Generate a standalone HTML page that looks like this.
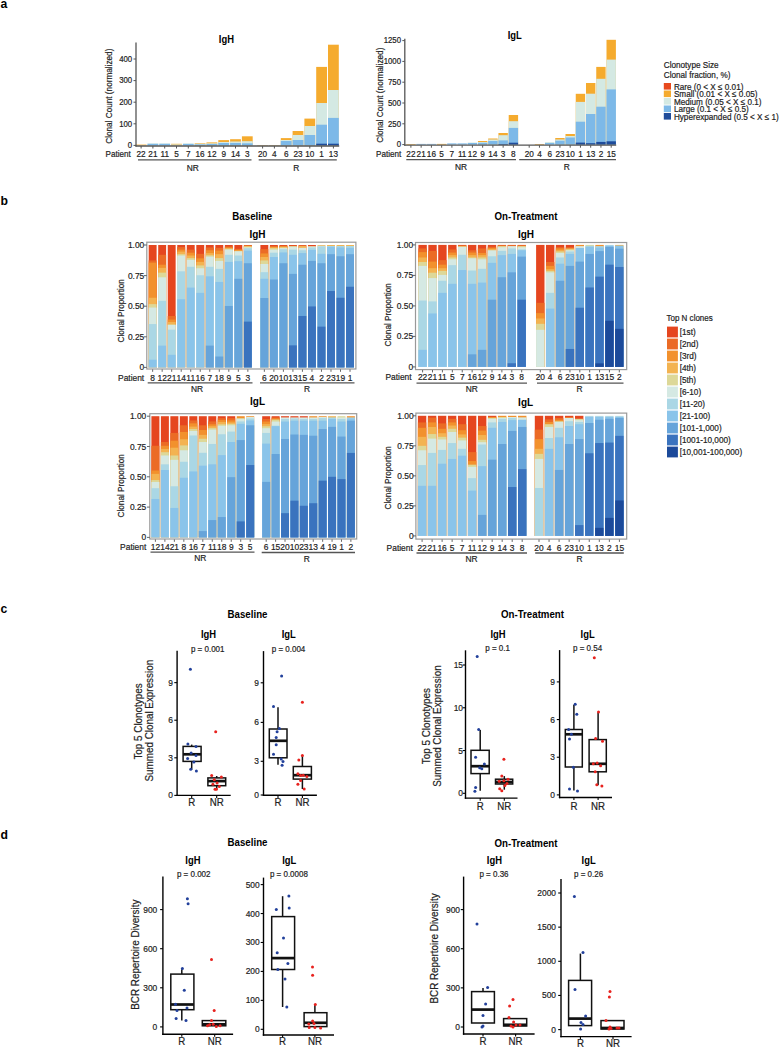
<!DOCTYPE html>
<html><head><meta charset="utf-8"><style>
html,body{margin:0;padding:0;background:#fff;width:780px;height:1050px;overflow:hidden}
svg{display:block;font-family:"Liberation Sans", sans-serif}
</style></head><body>
<svg width="780" height="1050" viewBox="0 0 780 1050">
<rect x="0" y="0" width="780" height="1050" fill="#fff"/>
<text transform="translate(0.50 7.60) scale(0.91 1)" font-size="13.42" text-anchor="start" font-weight="bold" fill="#000">a</text>
<rect x="135.70" y="144.60" width="10.80" height="0.80" fill="#F5AB2E"/>
<rect x="147.50" y="143.40" width="10.80" height="2.00" fill="#D4E9E3"/>
<rect x="147.50" y="143.80" width="10.80" height="1.60" fill="#7DB9E8"/>
<rect x="159.30" y="143.40" width="10.80" height="2.00" fill="#D4E9E3"/>
<rect x="159.30" y="143.80" width="10.80" height="1.60" fill="#7DB9E8"/>
<rect x="171.10" y="143.80" width="10.80" height="1.60" fill="#F5AB2E"/>
<rect x="171.10" y="144.40" width="10.80" height="1.00" fill="#D4E9E3"/>
<rect x="182.90" y="143.40" width="10.80" height="2.00" fill="#D4E9E3"/>
<rect x="182.90" y="143.90" width="10.80" height="1.50" fill="#7DB9E8"/>
<rect x="194.70" y="143.30" width="10.80" height="2.10" fill="#F5AB2E"/>
<rect x="194.70" y="143.80" width="10.80" height="1.60" fill="#D4E9E3"/>
<rect x="194.70" y="144.40" width="10.80" height="1.00" fill="#7DB9E8"/>
<rect x="206.50" y="142.40" width="10.80" height="3.00" fill="#F5AB2E"/>
<rect x="206.50" y="143.30" width="10.80" height="2.10" fill="#D4E9E3"/>
<rect x="206.50" y="144.00" width="10.80" height="1.40" fill="#7DB9E8"/>
<rect x="218.30" y="140.10" width="10.80" height="5.30" fill="#F5AB2E"/>
<rect x="218.30" y="142.00" width="10.80" height="3.40" fill="#D4E9E3"/>
<rect x="218.30" y="143.00" width="10.80" height="2.40" fill="#7DB9E8"/>
<rect x="230.10" y="139.20" width="10.80" height="6.20" fill="#F5AB2E"/>
<rect x="230.10" y="141.50" width="10.80" height="3.90" fill="#D4E9E3"/>
<rect x="230.10" y="143.00" width="10.80" height="2.40" fill="#7DB9E8"/>
<rect x="241.90" y="136.30" width="10.80" height="9.10" fill="#F5AB2E"/>
<rect x="241.90" y="141.20" width="10.80" height="4.20" fill="#D4E9E3"/>
<rect x="241.90" y="143.30" width="10.80" height="2.10" fill="#7DB9E8"/>
<rect x="257.20" y="145.00" width="10.80" height="0.40" fill="#F5AB2E"/>
<rect x="269.00" y="145.00" width="10.80" height="0.40" fill="#F5AB2E"/>
<rect x="280.80" y="138.10" width="10.80" height="7.30" fill="#F5AB2E"/>
<rect x="280.80" y="140.00" width="10.80" height="5.40" fill="#D4E9E3"/>
<rect x="280.80" y="141.00" width="10.80" height="4.40" fill="#7DB9E8"/>
<rect x="292.60" y="131.00" width="10.80" height="14.40" fill="#F5AB2E"/>
<rect x="292.60" y="135.00" width="10.80" height="10.40" fill="#D4E9E3"/>
<rect x="292.60" y="140.00" width="10.80" height="5.40" fill="#7DB9E8"/>
<rect x="304.40" y="118.60" width="10.80" height="26.80" fill="#F5AB2E"/>
<rect x="304.40" y="126.00" width="10.80" height="19.40" fill="#D4E9E3"/>
<rect x="304.40" y="135.00" width="10.80" height="10.40" fill="#7DB9E8"/>
<rect x="316.20" y="66.90" width="10.80" height="78.50" fill="#F5AB2E"/>
<rect x="316.20" y="103.00" width="10.80" height="42.40" fill="#D4E9E3"/>
<rect x="316.20" y="124.70" width="10.80" height="20.70" fill="#7DB9E8"/>
<rect x="316.20" y="143.70" width="10.80" height="1.70" fill="#1F4C9B"/>
<rect x="328.00" y="44.70" width="10.80" height="100.70" fill="#F5AB2E"/>
<rect x="328.00" y="90.00" width="10.80" height="55.40" fill="#D4E9E3"/>
<rect x="328.00" y="117.90" width="10.80" height="27.50" fill="#7DB9E8"/>
<rect x="328.00" y="143.70" width="10.80" height="1.70" fill="#1F4C9B"/>
<line x1="136.00" y1="42.60" x2="136.00" y2="146.60" stroke="#555" stroke-width="1.3"/>
<line x1="135.40" y1="146.00" x2="339.20" y2="146.00" stroke="#555" stroke-width="1.3"/>
<line x1="133.50" y1="145.40" x2="136.00" y2="145.40" stroke="#555" stroke-width="1"/>
<text transform="translate(132.20 148.20) scale(0.91 1)" font-size="8.58" text-anchor="end" fill="#222" stroke="#222" stroke-width="0.2">0</text>
<line x1="133.50" y1="123.80" x2="136.00" y2="123.80" stroke="#555" stroke-width="1"/>
<text transform="translate(132.20 126.60) scale(0.91 1)" font-size="8.58" text-anchor="end" fill="#222" stroke="#222" stroke-width="0.2">100</text>
<line x1="133.50" y1="102.20" x2="136.00" y2="102.20" stroke="#555" stroke-width="1"/>
<text transform="translate(132.20 105.00) scale(0.91 1)" font-size="8.58" text-anchor="end" fill="#222" stroke="#222" stroke-width="0.2">200</text>
<line x1="133.50" y1="80.60" x2="136.00" y2="80.60" stroke="#555" stroke-width="1"/>
<text transform="translate(132.20 83.40) scale(0.91 1)" font-size="8.58" text-anchor="end" fill="#222" stroke="#222" stroke-width="0.2">300</text>
<line x1="133.50" y1="59.00" x2="136.00" y2="59.00" stroke="#555" stroke-width="1"/>
<text transform="translate(132.20 61.80) scale(0.91 1)" font-size="8.58" text-anchor="end" fill="#222" stroke="#222" stroke-width="0.2">400</text>
<line x1="141.10" y1="146.00" x2="141.10" y2="148.50" stroke="#555" stroke-width="1"/>
<text transform="translate(141.10 156.50) scale(0.91 1)" font-size="9.02" text-anchor="middle" fill="#222" stroke="#222" stroke-width="0.2">22</text>
<line x1="152.90" y1="146.00" x2="152.90" y2="148.50" stroke="#555" stroke-width="1"/>
<text transform="translate(152.90 156.50) scale(0.91 1)" font-size="9.02" text-anchor="middle" fill="#222" stroke="#222" stroke-width="0.2">21</text>
<line x1="164.70" y1="146.00" x2="164.70" y2="148.50" stroke="#555" stroke-width="1"/>
<text transform="translate(164.70 156.50) scale(0.91 1)" font-size="9.02" text-anchor="middle" fill="#222" stroke="#222" stroke-width="0.2">11</text>
<line x1="176.50" y1="146.00" x2="176.50" y2="148.50" stroke="#555" stroke-width="1"/>
<text transform="translate(176.50 156.50) scale(0.91 1)" font-size="9.02" text-anchor="middle" fill="#222" stroke="#222" stroke-width="0.2">5</text>
<line x1="188.30" y1="146.00" x2="188.30" y2="148.50" stroke="#555" stroke-width="1"/>
<text transform="translate(188.30 156.50) scale(0.91 1)" font-size="9.02" text-anchor="middle" fill="#222" stroke="#222" stroke-width="0.2">7</text>
<line x1="200.10" y1="146.00" x2="200.10" y2="148.50" stroke="#555" stroke-width="1"/>
<text transform="translate(200.10 156.50) scale(0.91 1)" font-size="9.02" text-anchor="middle" fill="#222" stroke="#222" stroke-width="0.2">16</text>
<line x1="211.90" y1="146.00" x2="211.90" y2="148.50" stroke="#555" stroke-width="1"/>
<text transform="translate(211.90 156.50) scale(0.91 1)" font-size="9.02" text-anchor="middle" fill="#222" stroke="#222" stroke-width="0.2">12</text>
<line x1="223.70" y1="146.00" x2="223.70" y2="148.50" stroke="#555" stroke-width="1"/>
<text transform="translate(223.70 156.50) scale(0.91 1)" font-size="9.02" text-anchor="middle" fill="#222" stroke="#222" stroke-width="0.2">9</text>
<line x1="235.50" y1="146.00" x2="235.50" y2="148.50" stroke="#555" stroke-width="1"/>
<text transform="translate(235.50 156.50) scale(0.91 1)" font-size="9.02" text-anchor="middle" fill="#222" stroke="#222" stroke-width="0.2">14</text>
<line x1="247.30" y1="146.00" x2="247.30" y2="148.50" stroke="#555" stroke-width="1"/>
<text transform="translate(247.30 156.50) scale(0.91 1)" font-size="9.02" text-anchor="middle" fill="#222" stroke="#222" stroke-width="0.2">3</text>
<line x1="262.60" y1="146.00" x2="262.60" y2="148.50" stroke="#555" stroke-width="1"/>
<text transform="translate(262.60 156.50) scale(0.91 1)" font-size="9.02" text-anchor="middle" fill="#222" stroke="#222" stroke-width="0.2">20</text>
<line x1="274.40" y1="146.00" x2="274.40" y2="148.50" stroke="#555" stroke-width="1"/>
<text transform="translate(274.40 156.50) scale(0.91 1)" font-size="9.02" text-anchor="middle" fill="#222" stroke="#222" stroke-width="0.2">4</text>
<line x1="286.20" y1="146.00" x2="286.20" y2="148.50" stroke="#555" stroke-width="1"/>
<text transform="translate(286.20 156.50) scale(0.91 1)" font-size="9.02" text-anchor="middle" fill="#222" stroke="#222" stroke-width="0.2">6</text>
<line x1="298.00" y1="146.00" x2="298.00" y2="148.50" stroke="#555" stroke-width="1"/>
<text transform="translate(298.00 156.50) scale(0.91 1)" font-size="9.02" text-anchor="middle" fill="#222" stroke="#222" stroke-width="0.2">23</text>
<line x1="309.80" y1="146.00" x2="309.80" y2="148.50" stroke="#555" stroke-width="1"/>
<text transform="translate(309.80 156.50) scale(0.91 1)" font-size="9.02" text-anchor="middle" fill="#222" stroke="#222" stroke-width="0.2">10</text>
<line x1="321.60" y1="146.00" x2="321.60" y2="148.50" stroke="#555" stroke-width="1"/>
<text transform="translate(321.60 156.50) scale(0.91 1)" font-size="9.02" text-anchor="middle" fill="#222" stroke="#222" stroke-width="0.2">1</text>
<line x1="333.40" y1="146.00" x2="333.40" y2="148.50" stroke="#555" stroke-width="1"/>
<text transform="translate(333.40 156.50) scale(0.91 1)" font-size="9.02" text-anchor="middle" fill="#222" stroke="#222" stroke-width="0.2">13</text>
<text transform="translate(130.80 156.50) scale(0.91 1)" font-size="8.91" text-anchor="end" fill="#222" stroke="#222" stroke-width="0.2">Patient</text>
<line x1="138.00" y1="159.90" x2="251.50" y2="159.90" stroke="#555" stroke-width="1.3"/>
<line x1="258.70" y1="159.90" x2="336.80" y2="159.90" stroke="#555" stroke-width="1.3"/>
<text transform="translate(192.80 171.20) scale(0.91 1)" font-size="9.24" text-anchor="middle" fill="#222" stroke="#222" stroke-width="0.2">NR</text>
<text transform="translate(296.40 171.20) scale(0.91 1)" font-size="9.24" text-anchor="middle" fill="#222" stroke="#222" stroke-width="0.2">R</text>
<text transform="translate(226.40 43.20) scale(0.91 1)" font-size="10.34" text-anchor="middle" font-weight="bold" fill="#000">IgH</text>
<text transform="translate(111.90 96.20) rotate(-90) scale(0.91 1)" font-size="9.02" text-anchor="middle" fill="#222" stroke="#222" stroke-width="0.2">Clonal Count (normalized)</text>
<rect x="406.20" y="144.00" width="9.40" height="0.60" fill="#F5AB2E"/>
<rect x="416.45" y="143.90" width="9.40" height="0.70" fill="#7DB9E8"/>
<rect x="426.70" y="143.90" width="9.40" height="0.70" fill="#7DB9E8"/>
<rect x="436.95" y="143.90" width="9.40" height="0.70" fill="#F5AB2E"/>
<rect x="447.20" y="143.40" width="9.40" height="1.20" fill="#7DB9E8"/>
<rect x="457.45" y="143.40" width="9.40" height="1.20" fill="#7DB9E8"/>
<rect x="467.70" y="142.50" width="9.40" height="2.10" fill="#D4E9E3"/>
<rect x="467.70" y="143.00" width="9.40" height="1.60" fill="#7DB9E8"/>
<rect x="477.95" y="141.00" width="9.40" height="3.60" fill="#F5AB2E"/>
<rect x="477.95" y="142.00" width="9.40" height="2.60" fill="#D4E9E3"/>
<rect x="477.95" y="142.80" width="9.40" height="1.80" fill="#7DB9E8"/>
<rect x="488.20" y="138.50" width="9.40" height="6.10" fill="#F5AB2E"/>
<rect x="488.20" y="139.50" width="9.40" height="5.10" fill="#D4E9E3"/>
<rect x="488.20" y="141.00" width="9.40" height="3.60" fill="#7DB9E8"/>
<rect x="498.45" y="133.00" width="9.40" height="11.60" fill="#F5AB2E"/>
<rect x="498.45" y="135.20" width="9.40" height="9.40" fill="#D4E9E3"/>
<rect x="498.45" y="140.40" width="9.40" height="4.20" fill="#7DB9E8"/>
<rect x="498.45" y="144.00" width="9.40" height="0.60" fill="#1F4C9B"/>
<rect x="508.70" y="115.00" width="9.40" height="29.60" fill="#F5AB2E"/>
<rect x="508.70" y="121.20" width="9.40" height="23.40" fill="#D4E9E3"/>
<rect x="508.70" y="127.90" width="9.40" height="16.70" fill="#7DB9E8"/>
<rect x="508.70" y="142.70" width="9.40" height="1.90" fill="#1F4C9B"/>
<rect x="534.75" y="144.00" width="9.40" height="0.60" fill="#F5AB2E"/>
<rect x="545.00" y="142.00" width="9.40" height="2.60" fill="#D4E9E3"/>
<rect x="545.00" y="143.00" width="9.40" height="1.60" fill="#7DB9E8"/>
<rect x="555.25" y="138.00" width="9.40" height="6.60" fill="#F5AB2E"/>
<rect x="555.25" y="139.50" width="9.40" height="5.10" fill="#D4E9E3"/>
<rect x="555.25" y="140.70" width="9.40" height="3.90" fill="#7DB9E8"/>
<rect x="565.50" y="134.00" width="9.40" height="10.60" fill="#F5AB2E"/>
<rect x="565.50" y="136.00" width="9.40" height="8.60" fill="#D4E9E3"/>
<rect x="565.50" y="137.50" width="9.40" height="7.10" fill="#7DB9E8"/>
<rect x="575.75" y="93.80" width="9.40" height="50.80" fill="#F5AB2E"/>
<rect x="575.75" y="101.90" width="9.40" height="42.70" fill="#D4E9E3"/>
<rect x="575.75" y="121.70" width="9.40" height="22.90" fill="#7DB9E8"/>
<rect x="575.75" y="142.60" width="9.40" height="2.00" fill="#1F4C9B"/>
<rect x="586.00" y="83.00" width="9.40" height="61.60" fill="#F5AB2E"/>
<rect x="586.00" y="93.70" width="9.40" height="50.90" fill="#D4E9E3"/>
<rect x="586.00" y="114.00" width="9.40" height="30.60" fill="#7DB9E8"/>
<rect x="586.00" y="143.20" width="9.40" height="1.40" fill="#1F4C9B"/>
<rect x="596.25" y="66.90" width="9.40" height="77.70" fill="#F5AB2E"/>
<rect x="596.25" y="78.80" width="9.40" height="65.80" fill="#D4E9E3"/>
<rect x="596.25" y="106.70" width="9.40" height="37.90" fill="#7DB9E8"/>
<rect x="596.25" y="141.90" width="9.40" height="2.70" fill="#1F4C9B"/>
<rect x="606.50" y="39.80" width="9.40" height="104.80" fill="#F5AB2E"/>
<rect x="606.50" y="59.60" width="9.40" height="85.00" fill="#D4E9E3"/>
<rect x="606.50" y="89.40" width="9.40" height="55.20" fill="#7DB9E8"/>
<rect x="606.50" y="141.30" width="9.40" height="3.30" fill="#1F4C9B"/>
<line x1="404.80" y1="38.80" x2="404.80" y2="145.80" stroke="#555" stroke-width="1.3"/>
<line x1="404.20" y1="145.20" x2="616.20" y2="145.20" stroke="#555" stroke-width="1.3"/>
<line x1="402.30" y1="144.60" x2="404.80" y2="144.60" stroke="#555" stroke-width="1"/>
<text transform="translate(401.00 147.40) scale(0.91 1)" font-size="8.58" text-anchor="end" fill="#222" stroke="#222" stroke-width="0.2">0</text>
<line x1="402.30" y1="123.80" x2="404.80" y2="123.80" stroke="#555" stroke-width="1"/>
<text transform="translate(401.00 126.60) scale(0.91 1)" font-size="8.58" text-anchor="end" fill="#222" stroke="#222" stroke-width="0.2">250</text>
<line x1="402.30" y1="103.00" x2="404.80" y2="103.00" stroke="#555" stroke-width="1"/>
<text transform="translate(401.00 105.80) scale(0.91 1)" font-size="8.58" text-anchor="end" fill="#222" stroke="#222" stroke-width="0.2">500</text>
<line x1="402.30" y1="82.20" x2="404.80" y2="82.20" stroke="#555" stroke-width="1"/>
<text transform="translate(401.00 85.00) scale(0.91 1)" font-size="8.58" text-anchor="end" fill="#222" stroke="#222" stroke-width="0.2">750</text>
<line x1="402.30" y1="61.40" x2="404.80" y2="61.40" stroke="#555" stroke-width="1"/>
<text transform="translate(401.00 64.20) scale(0.91 1)" font-size="8.58" text-anchor="end" fill="#222" stroke="#222" stroke-width="0.2">1000</text>
<line x1="402.30" y1="40.60" x2="404.80" y2="40.60" stroke="#555" stroke-width="1"/>
<text transform="translate(401.00 43.40) scale(0.91 1)" font-size="8.58" text-anchor="end" fill="#222" stroke="#222" stroke-width="0.2">1250</text>
<line x1="410.90" y1="145.20" x2="410.90" y2="147.70" stroke="#555" stroke-width="1"/>
<text transform="translate(410.90 156.70) scale(0.91 1)" font-size="9.02" text-anchor="middle" fill="#222" stroke="#222" stroke-width="0.2">22</text>
<line x1="421.15" y1="145.20" x2="421.15" y2="147.70" stroke="#555" stroke-width="1"/>
<text transform="translate(421.15 156.70) scale(0.91 1)" font-size="9.02" text-anchor="middle" fill="#222" stroke="#222" stroke-width="0.2">21</text>
<line x1="431.40" y1="145.20" x2="431.40" y2="147.70" stroke="#555" stroke-width="1"/>
<text transform="translate(431.40 156.70) scale(0.91 1)" font-size="9.02" text-anchor="middle" fill="#222" stroke="#222" stroke-width="0.2">16</text>
<line x1="441.65" y1="145.20" x2="441.65" y2="147.70" stroke="#555" stroke-width="1"/>
<text transform="translate(441.65 156.70) scale(0.91 1)" font-size="9.02" text-anchor="middle" fill="#222" stroke="#222" stroke-width="0.2">5</text>
<line x1="451.90" y1="145.20" x2="451.90" y2="147.70" stroke="#555" stroke-width="1"/>
<text transform="translate(451.90 156.70) scale(0.91 1)" font-size="9.02" text-anchor="middle" fill="#222" stroke="#222" stroke-width="0.2">7</text>
<line x1="462.15" y1="145.20" x2="462.15" y2="147.70" stroke="#555" stroke-width="1"/>
<text transform="translate(462.15 156.70) scale(0.91 1)" font-size="9.02" text-anchor="middle" fill="#222" stroke="#222" stroke-width="0.2">11</text>
<line x1="472.40" y1="145.20" x2="472.40" y2="147.70" stroke="#555" stroke-width="1"/>
<text transform="translate(472.40 156.70) scale(0.91 1)" font-size="9.02" text-anchor="middle" fill="#222" stroke="#222" stroke-width="0.2">12</text>
<line x1="482.65" y1="145.20" x2="482.65" y2="147.70" stroke="#555" stroke-width="1"/>
<text transform="translate(482.65 156.70) scale(0.91 1)" font-size="9.02" text-anchor="middle" fill="#222" stroke="#222" stroke-width="0.2">9</text>
<line x1="492.90" y1="145.20" x2="492.90" y2="147.70" stroke="#555" stroke-width="1"/>
<text transform="translate(492.90 156.70) scale(0.91 1)" font-size="9.02" text-anchor="middle" fill="#222" stroke="#222" stroke-width="0.2">14</text>
<line x1="503.15" y1="145.20" x2="503.15" y2="147.70" stroke="#555" stroke-width="1"/>
<text transform="translate(503.15 156.70) scale(0.91 1)" font-size="9.02" text-anchor="middle" fill="#222" stroke="#222" stroke-width="0.2">3</text>
<line x1="513.40" y1="145.20" x2="513.40" y2="147.70" stroke="#555" stroke-width="1"/>
<text transform="translate(513.40 156.70) scale(0.91 1)" font-size="9.02" text-anchor="middle" fill="#222" stroke="#222" stroke-width="0.2">8</text>
<line x1="529.20" y1="145.20" x2="529.20" y2="147.70" stroke="#555" stroke-width="1"/>
<text transform="translate(529.20 156.70) scale(0.91 1)" font-size="9.02" text-anchor="middle" fill="#222" stroke="#222" stroke-width="0.2">20</text>
<line x1="539.45" y1="145.20" x2="539.45" y2="147.70" stroke="#555" stroke-width="1"/>
<text transform="translate(539.45 156.70) scale(0.91 1)" font-size="9.02" text-anchor="middle" fill="#222" stroke="#222" stroke-width="0.2">4</text>
<line x1="549.70" y1="145.20" x2="549.70" y2="147.70" stroke="#555" stroke-width="1"/>
<text transform="translate(549.70 156.70) scale(0.91 1)" font-size="9.02" text-anchor="middle" fill="#222" stroke="#222" stroke-width="0.2">6</text>
<line x1="559.95" y1="145.20" x2="559.95" y2="147.70" stroke="#555" stroke-width="1"/>
<text transform="translate(559.95 156.70) scale(0.91 1)" font-size="9.02" text-anchor="middle" fill="#222" stroke="#222" stroke-width="0.2">23</text>
<line x1="570.20" y1="145.20" x2="570.20" y2="147.70" stroke="#555" stroke-width="1"/>
<text transform="translate(570.20 156.70) scale(0.91 1)" font-size="9.02" text-anchor="middle" fill="#222" stroke="#222" stroke-width="0.2">10</text>
<line x1="580.45" y1="145.20" x2="580.45" y2="147.70" stroke="#555" stroke-width="1"/>
<text transform="translate(580.45 156.70) scale(0.91 1)" font-size="9.02" text-anchor="middle" fill="#222" stroke="#222" stroke-width="0.2">1</text>
<line x1="590.70" y1="145.20" x2="590.70" y2="147.70" stroke="#555" stroke-width="1"/>
<text transform="translate(590.70 156.70) scale(0.91 1)" font-size="9.02" text-anchor="middle" fill="#222" stroke="#222" stroke-width="0.2">13</text>
<line x1="600.95" y1="145.20" x2="600.95" y2="147.70" stroke="#555" stroke-width="1"/>
<text transform="translate(600.95 156.70) scale(0.91 1)" font-size="9.02" text-anchor="middle" fill="#222" stroke="#222" stroke-width="0.2">2</text>
<line x1="611.20" y1="145.20" x2="611.20" y2="147.70" stroke="#555" stroke-width="1"/>
<text transform="translate(611.20 156.70) scale(0.91 1)" font-size="9.02" text-anchor="middle" fill="#222" stroke="#222" stroke-width="0.2">15</text>
<text transform="translate(401.20 156.70) scale(0.91 1)" font-size="8.91" text-anchor="end" fill="#222" stroke="#222" stroke-width="0.2">Patient</text>
<line x1="406.30" y1="159.60" x2="516.00" y2="159.60" stroke="#555" stroke-width="1.3"/>
<line x1="519.20" y1="159.60" x2="616.00" y2="159.60" stroke="#555" stroke-width="1.3"/>
<text transform="translate(461.00 170.20) scale(0.91 1)" font-size="9.24" text-anchor="middle" fill="#222" stroke="#222" stroke-width="0.2">NR</text>
<text transform="translate(566.70 170.20) scale(0.91 1)" font-size="9.24" text-anchor="middle" fill="#222" stroke="#222" stroke-width="0.2">R</text>
<text transform="translate(514.70 39.20) scale(0.91 1)" font-size="10.34" text-anchor="middle" font-weight="bold" fill="#000">IgL</text>
<text transform="translate(383.00 95.20) rotate(-90) scale(0.91 1)" font-size="9.02" text-anchor="middle" fill="#222" stroke="#222" stroke-width="0.2">Clonal Count (normalized)</text>
<text transform="translate(663.80 68.30) scale(0.91 1)" font-size="8.97" text-anchor="start" fill="#222" stroke="#222" stroke-width="0.2">Clonotype Size</text>
<text transform="translate(663.80 78.00) scale(0.91 1)" font-size="8.97" text-anchor="start" fill="#222" stroke="#222" stroke-width="0.2">Clonal fraction, %)</text>
<rect x="663.80" y="83.00" width="7.20" height="6.60" fill="#E8491D"/>
<text transform="translate(673.90 89.50) scale(0.91 1)" font-size="8.97" text-anchor="start" fill="#222" stroke="#222" stroke-width="0.2">Rare (0 &lt; X ≤ 0.01)</text>
<rect x="663.80" y="90.50" width="7.20" height="6.60" fill="#F5AB2E"/>
<text transform="translate(673.90 97.00) scale(0.91 1)" font-size="8.97" text-anchor="start" fill="#222" stroke="#222" stroke-width="0.2">Small (0.01 &lt; X ≤ 0.05)</text>
<rect x="663.80" y="98.00" width="7.20" height="6.60" fill="#D4E9E3"/>
<text transform="translate(673.90 104.50) scale(0.91 1)" font-size="8.97" text-anchor="start" fill="#222" stroke="#222" stroke-width="0.2">Medium (0.05 &lt; X ≤ 0.1)</text>
<rect x="663.80" y="105.50" width="7.20" height="6.60" fill="#7DB9E8"/>
<text transform="translate(673.90 112.00) scale(0.91 1)" font-size="8.97" text-anchor="start" fill="#222" stroke="#222" stroke-width="0.2">Large (0.1 &lt; X ≤ 0.5)</text>
<rect x="663.80" y="113.00" width="7.20" height="6.60" fill="#1F4C9B"/>
<text transform="translate(673.90 119.50) scale(0.91 1)" font-size="8.97" text-anchor="start" fill="#222" stroke="#222" stroke-width="0.2">Hyperexpanded (0.5 &lt; X ≤ 1)</text>
<text transform="translate(0.50 204.80) scale(0.91 1)" font-size="13.42" text-anchor="start" font-weight="bold" fill="#000">b</text>
<text transform="translate(252.30 219.60) scale(0.91 1)" font-size="10.67" text-anchor="middle" font-weight="bold" fill="#000">Baseline</text>
<text transform="translate(526.00 219.80) scale(0.91 1)" font-size="10.67" text-anchor="middle" font-weight="bold" fill="#000">On-Treatment</text>
<rect x="146.80" y="242.20" width="209.10" height="126.80" fill="#fff" stroke="#999" stroke-width="1.2"/>
<rect x="148.70" y="245.00" width="7.90" height="122.40" fill="#E5461F"/>
<rect x="148.70" y="260.42" width="7.90" height="106.98" fill="#EB6B25"/>
<rect x="148.70" y="262.63" width="7.90" height="104.77" fill="#F2912D"/>
<rect x="148.70" y="297.75" width="7.90" height="69.65" fill="#F3B351"/>
<rect x="148.70" y="304.12" width="7.90" height="63.28" fill="#DDD898"/>
<rect x="148.70" y="307.55" width="7.90" height="59.85" fill="#D5E9E3"/>
<rect x="148.70" y="324.07" width="7.90" height="43.33" fill="#AAD7E5"/>
<rect x="148.70" y="359.69" width="7.90" height="7.71" fill="#8AC4EA"/>
<rect x="158.22" y="245.00" width="7.90" height="122.40" fill="#E5461F"/>
<rect x="158.22" y="254.79" width="7.90" height="112.61" fill="#EB6B25"/>
<rect x="158.22" y="264.71" width="7.90" height="102.69" fill="#F2912D"/>
<rect x="158.22" y="267.89" width="7.90" height="99.51" fill="#F3B351"/>
<rect x="158.22" y="272.66" width="7.90" height="94.74" fill="#DDD898"/>
<rect x="158.22" y="277.31" width="7.90" height="90.09" fill="#D5E9E3"/>
<rect x="158.22" y="300.81" width="7.90" height="66.59" fill="#AAD7E5"/>
<rect x="158.22" y="345.61" width="7.90" height="21.79" fill="#8AC4EA"/>
<rect x="167.74" y="245.00" width="7.90" height="122.40" fill="#E5461F"/>
<rect x="167.74" y="315.99" width="7.90" height="51.41" fill="#EB6B25"/>
<rect x="167.74" y="319.54" width="7.90" height="47.86" fill="#F2912D"/>
<rect x="167.74" y="321.99" width="7.90" height="45.41" fill="#F3B351"/>
<rect x="167.74" y="324.44" width="7.90" height="42.96" fill="#DDD898"/>
<rect x="167.74" y="324.93" width="7.90" height="42.47" fill="#D5E9E3"/>
<rect x="167.74" y="329.70" width="7.90" height="37.70" fill="#AAD7E5"/>
<rect x="167.74" y="354.79" width="7.90" height="12.61" fill="#8AC4EA"/>
<rect x="177.26" y="245.00" width="7.90" height="122.40" fill="#E5461F"/>
<rect x="177.26" y="247.08" width="7.90" height="120.32" fill="#EB6B25"/>
<rect x="177.26" y="249.65" width="7.90" height="117.75" fill="#F2912D"/>
<rect x="177.26" y="251.61" width="7.90" height="115.79" fill="#F3B351"/>
<rect x="177.26" y="254.18" width="7.90" height="113.22" fill="#DDD898"/>
<rect x="177.26" y="255.53" width="7.90" height="111.87" fill="#D5E9E3"/>
<rect x="177.26" y="271.32" width="7.90" height="96.08" fill="#AAD7E5"/>
<rect x="177.26" y="299.22" width="7.90" height="68.18" fill="#8AC4EA"/>
<rect x="186.78" y="245.00" width="7.90" height="122.40" fill="#E5461F"/>
<rect x="186.78" y="249.65" width="7.90" height="117.75" fill="#EB6B25"/>
<rect x="186.78" y="252.71" width="7.90" height="114.69" fill="#F2912D"/>
<rect x="186.78" y="255.53" width="7.90" height="111.87" fill="#F3B351"/>
<rect x="186.78" y="258.10" width="7.90" height="109.30" fill="#DDD898"/>
<rect x="186.78" y="259.81" width="7.90" height="107.59" fill="#D5E9E3"/>
<rect x="186.78" y="266.79" width="7.90" height="100.61" fill="#AAD7E5"/>
<rect x="186.78" y="287.60" width="7.90" height="79.80" fill="#8AC4EA"/>
<rect x="196.30" y="245.00" width="7.90" height="122.40" fill="#E5461F"/>
<rect x="196.30" y="253.81" width="7.90" height="113.59" fill="#EB6B25"/>
<rect x="196.30" y="258.34" width="7.90" height="109.06" fill="#F2912D"/>
<rect x="196.30" y="261.89" width="7.90" height="105.51" fill="#F3B351"/>
<rect x="196.30" y="265.44" width="7.90" height="101.96" fill="#DDD898"/>
<rect x="196.30" y="268.26" width="7.90" height="99.14" fill="#D5E9E3"/>
<rect x="196.30" y="275.23" width="7.90" height="92.17" fill="#AAD7E5"/>
<rect x="196.30" y="292.86" width="7.90" height="74.54" fill="#8AC4EA"/>
<rect x="205.82" y="245.00" width="7.90" height="122.40" fill="#E5461F"/>
<rect x="205.82" y="247.45" width="7.90" height="119.95" fill="#EB6B25"/>
<rect x="205.82" y="250.26" width="7.90" height="117.14" fill="#F2912D"/>
<rect x="205.82" y="253.08" width="7.90" height="114.32" fill="#F3B351"/>
<rect x="205.82" y="255.28" width="7.90" height="112.12" fill="#DDD898"/>
<rect x="205.82" y="256.63" width="7.90" height="110.77" fill="#D5E9E3"/>
<rect x="205.82" y="266.79" width="7.90" height="100.61" fill="#AAD7E5"/>
<rect x="205.82" y="276.33" width="7.90" height="91.07" fill="#8AC4EA"/>
<rect x="205.82" y="345.61" width="7.90" height="21.79" fill="#66A4DA"/>
<rect x="215.34" y="245.00" width="7.90" height="122.40" fill="#E5461F"/>
<rect x="215.34" y="247.82" width="7.90" height="119.58" fill="#EB6B25"/>
<rect x="215.34" y="250.63" width="7.90" height="116.77" fill="#F2912D"/>
<rect x="215.34" y="254.18" width="7.90" height="113.22" fill="#F3B351"/>
<rect x="215.34" y="258.10" width="7.90" height="109.30" fill="#DDD898"/>
<rect x="215.34" y="260.91" width="7.90" height="106.49" fill="#D5E9E3"/>
<rect x="215.34" y="268.87" width="7.90" height="98.53" fill="#AAD7E5"/>
<rect x="215.34" y="281.96" width="7.90" height="85.44" fill="#8AC4EA"/>
<rect x="215.34" y="356.51" width="7.90" height="10.89" fill="#66A4DA"/>
<rect x="224.86" y="245.00" width="7.90" height="122.40" fill="#E5461F"/>
<rect x="224.86" y="246.35" width="7.90" height="121.05" fill="#EB6B25"/>
<rect x="224.86" y="247.45" width="7.90" height="119.95" fill="#F2912D"/>
<rect x="224.86" y="248.30" width="7.90" height="119.10" fill="#F3B351"/>
<rect x="224.86" y="248.79" width="7.90" height="118.61" fill="#DDD898"/>
<rect x="224.86" y="249.65" width="7.90" height="117.75" fill="#D5E9E3"/>
<rect x="224.86" y="254.79" width="7.90" height="112.61" fill="#AAD7E5"/>
<rect x="224.86" y="261.89" width="7.90" height="105.51" fill="#8AC4EA"/>
<rect x="224.86" y="305.96" width="7.90" height="61.44" fill="#66A4DA"/>
<rect x="234.38" y="245.00" width="7.90" height="122.40" fill="#E5461F"/>
<rect x="234.38" y="248.79" width="7.90" height="118.61" fill="#EB6B25"/>
<rect x="234.38" y="249.90" width="7.90" height="117.50" fill="#F2912D"/>
<rect x="234.38" y="250.63" width="7.90" height="116.77" fill="#F3B351"/>
<rect x="234.38" y="251.00" width="7.90" height="116.40" fill="#DDD898"/>
<rect x="234.38" y="251.36" width="7.90" height="116.04" fill="#D5E9E3"/>
<rect x="234.38" y="255.53" width="7.90" height="111.87" fill="#AAD7E5"/>
<rect x="234.38" y="261.16" width="7.90" height="106.24" fill="#8AC4EA"/>
<rect x="234.38" y="278.78" width="7.90" height="88.62" fill="#66A4DA"/>
<rect x="243.90" y="245.00" width="7.90" height="122.40" fill="#E5461F"/>
<rect x="243.90" y="245.37" width="7.90" height="122.03" fill="#EB6B25"/>
<rect x="243.90" y="245.73" width="7.90" height="121.67" fill="#F2912D"/>
<rect x="243.90" y="246.10" width="7.90" height="121.30" fill="#F3B351"/>
<rect x="243.90" y="246.59" width="7.90" height="120.81" fill="#DDD898"/>
<rect x="243.90" y="247.45" width="7.90" height="119.95" fill="#D5E9E3"/>
<rect x="243.90" y="248.18" width="7.90" height="119.22" fill="#AAD7E5"/>
<rect x="243.90" y="250.63" width="7.90" height="116.77" fill="#8AC4EA"/>
<rect x="243.90" y="263.24" width="7.90" height="104.16" fill="#66A4DA"/>
<rect x="243.90" y="321.62" width="7.90" height="45.78" fill="#3A73BE"/>
<rect x="260.40" y="245.00" width="7.90" height="122.40" fill="#E5461F"/>
<rect x="260.40" y="249.16" width="7.90" height="118.24" fill="#EB6B25"/>
<rect x="260.40" y="253.45" width="7.90" height="113.95" fill="#F2912D"/>
<rect x="260.40" y="257.00" width="7.90" height="110.40" fill="#F3B351"/>
<rect x="260.40" y="260.42" width="7.90" height="106.98" fill="#DDD898"/>
<rect x="260.40" y="263.97" width="7.90" height="103.43" fill="#D5E9E3"/>
<rect x="260.40" y="272.17" width="7.90" height="95.23" fill="#AAD7E5"/>
<rect x="260.40" y="278.78" width="7.90" height="88.62" fill="#8AC4EA"/>
<rect x="260.40" y="298.00" width="7.90" height="69.40" fill="#66A4DA"/>
<rect x="269.92" y="245.00" width="7.90" height="122.40" fill="#E5461F"/>
<rect x="269.92" y="245.98" width="7.90" height="121.42" fill="#EB6B25"/>
<rect x="269.92" y="246.84" width="7.90" height="120.56" fill="#F2912D"/>
<rect x="269.92" y="247.45" width="7.90" height="119.95" fill="#F3B351"/>
<rect x="269.92" y="248.18" width="7.90" height="119.22" fill="#DDD898"/>
<rect x="269.92" y="249.65" width="7.90" height="117.75" fill="#D5E9E3"/>
<rect x="269.92" y="252.71" width="7.90" height="114.69" fill="#AAD7E5"/>
<rect x="269.92" y="257.00" width="7.90" height="110.40" fill="#8AC4EA"/>
<rect x="269.92" y="279.52" width="7.90" height="87.88" fill="#66A4DA"/>
<rect x="279.44" y="245.00" width="7.90" height="122.40" fill="#E5461F"/>
<rect x="279.44" y="245.73" width="7.90" height="121.67" fill="#EB6B25"/>
<rect x="279.44" y="246.22" width="7.90" height="121.18" fill="#F2912D"/>
<rect x="279.44" y="246.84" width="7.90" height="120.56" fill="#F3B351"/>
<rect x="279.44" y="247.45" width="7.90" height="119.95" fill="#DDD898"/>
<rect x="279.44" y="248.18" width="7.90" height="119.22" fill="#D5E9E3"/>
<rect x="279.44" y="249.16" width="7.90" height="118.24" fill="#AAD7E5"/>
<rect x="279.44" y="252.47" width="7.90" height="114.93" fill="#8AC4EA"/>
<rect x="279.44" y="263.24" width="7.90" height="104.16" fill="#66A4DA"/>
<rect x="288.96" y="245.00" width="7.90" height="122.40" fill="#E5461F"/>
<rect x="288.96" y="245.73" width="7.90" height="121.67" fill="#EB6B25"/>
<rect x="288.96" y="246.10" width="7.90" height="121.30" fill="#DDD898"/>
<rect x="288.96" y="246.84" width="7.90" height="120.56" fill="#D5E9E3"/>
<rect x="288.96" y="249.65" width="7.90" height="117.75" fill="#AAD7E5"/>
<rect x="288.96" y="254.79" width="7.90" height="112.61" fill="#8AC4EA"/>
<rect x="288.96" y="273.89" width="7.90" height="93.51" fill="#66A4DA"/>
<rect x="288.96" y="345.37" width="7.90" height="22.03" fill="#3A73BE"/>
<rect x="298.48" y="245.00" width="7.90" height="122.40" fill="#E5461F"/>
<rect x="298.48" y="245.73" width="7.90" height="121.67" fill="#F3B351"/>
<rect x="298.48" y="247.82" width="7.90" height="119.58" fill="#D5E9E3"/>
<rect x="298.48" y="250.26" width="7.90" height="117.14" fill="#AAD7E5"/>
<rect x="298.48" y="253.08" width="7.90" height="114.32" fill="#8AC4EA"/>
<rect x="298.48" y="264.71" width="7.90" height="102.69" fill="#66A4DA"/>
<rect x="298.48" y="315.99" width="7.90" height="51.41" fill="#3A73BE"/>
<rect x="308.00" y="245.00" width="7.90" height="122.40" fill="#E5461F"/>
<rect x="308.00" y="245.98" width="7.90" height="121.42" fill="#F2912D"/>
<rect x="308.00" y="246.35" width="7.90" height="121.05" fill="#D5E9E3"/>
<rect x="308.00" y="247.45" width="7.90" height="119.95" fill="#AAD7E5"/>
<rect x="308.00" y="249.90" width="7.90" height="117.50" fill="#8AC4EA"/>
<rect x="308.00" y="260.91" width="7.90" height="106.49" fill="#66A4DA"/>
<rect x="308.00" y="306.44" width="7.90" height="60.96" fill="#3A73BE"/>
<rect x="317.52" y="245.00" width="7.90" height="122.40" fill="#F3B351"/>
<rect x="317.52" y="245.73" width="7.90" height="121.67" fill="#D5E9E3"/>
<rect x="317.52" y="246.35" width="7.90" height="121.05" fill="#AAD7E5"/>
<rect x="317.52" y="253.81" width="7.90" height="113.59" fill="#8AC4EA"/>
<rect x="317.52" y="263.24" width="7.90" height="104.16" fill="#66A4DA"/>
<rect x="317.52" y="326.64" width="7.90" height="40.76" fill="#3A73BE"/>
<rect x="327.04" y="245.00" width="7.90" height="122.40" fill="#F3B351"/>
<rect x="327.04" y="245.98" width="7.90" height="121.42" fill="#AAD7E5"/>
<rect x="327.04" y="246.84" width="7.90" height="120.56" fill="#8AC4EA"/>
<rect x="327.04" y="254.18" width="7.90" height="113.22" fill="#66A4DA"/>
<rect x="327.04" y="291.02" width="7.90" height="76.38" fill="#3A73BE"/>
<rect x="336.56" y="245.00" width="7.90" height="122.40" fill="#F3B351"/>
<rect x="336.56" y="245.98" width="7.90" height="121.42" fill="#AAD7E5"/>
<rect x="336.56" y="247.45" width="7.90" height="119.95" fill="#8AC4EA"/>
<rect x="336.56" y="256.26" width="7.90" height="111.14" fill="#66A4DA"/>
<rect x="336.56" y="297.75" width="7.90" height="69.65" fill="#3A73BE"/>
<rect x="346.08" y="245.00" width="7.90" height="122.40" fill="#F3B351"/>
<rect x="346.08" y="245.98" width="7.90" height="121.42" fill="#AAD7E5"/>
<rect x="346.08" y="247.82" width="7.90" height="119.58" fill="#8AC4EA"/>
<rect x="346.08" y="254.18" width="7.90" height="113.22" fill="#66A4DA"/>
<rect x="346.08" y="286.74" width="7.90" height="80.66" fill="#3A73BE"/>
<line x1="144.00" y1="245.00" x2="146.80" y2="245.00" stroke="#555" stroke-width="0.9"/>
<text transform="translate(144.30 248.00) scale(0.91 1)" font-size="9.24" text-anchor="end" fill="#222" stroke="#222" stroke-width="0.2">1.00</text>
<line x1="144.00" y1="275.60" x2="146.80" y2="275.60" stroke="#555" stroke-width="0.9"/>
<text transform="translate(144.30 278.60) scale(0.91 1)" font-size="9.24" text-anchor="end" fill="#222" stroke="#222" stroke-width="0.2">0.75</text>
<line x1="144.00" y1="306.20" x2="146.80" y2="306.20" stroke="#555" stroke-width="0.9"/>
<text transform="translate(144.30 309.20) scale(0.91 1)" font-size="9.24" text-anchor="end" fill="#222" stroke="#222" stroke-width="0.2">0.50</text>
<line x1="144.00" y1="336.80" x2="146.80" y2="336.80" stroke="#555" stroke-width="0.9"/>
<text transform="translate(144.30 339.80) scale(0.91 1)" font-size="9.24" text-anchor="end" fill="#222" stroke="#222" stroke-width="0.2">0.25</text>
<line x1="144.00" y1="367.40" x2="146.80" y2="367.40" stroke="#555" stroke-width="0.9"/>
<text transform="translate(144.30 370.40) scale(0.91 1)" font-size="9.24" text-anchor="end" fill="#222" stroke="#222" stroke-width="0.2">0</text>
<line x1="152.65" y1="369.40" x2="152.65" y2="371.80" stroke="#555" stroke-width="0.9"/>
<text transform="translate(152.65 380.60) scale(0.91 1)" font-size="9.24" text-anchor="middle" fill="#222" stroke="#222" stroke-width="0.2">8</text>
<line x1="162.17" y1="369.40" x2="162.17" y2="371.80" stroke="#555" stroke-width="0.9"/>
<text transform="translate(162.17 380.60) scale(0.91 1)" font-size="9.24" text-anchor="middle" fill="#222" stroke="#222" stroke-width="0.2">12</text>
<line x1="171.69" y1="369.40" x2="171.69" y2="371.80" stroke="#555" stroke-width="0.9"/>
<text transform="translate(171.69 380.60) scale(0.91 1)" font-size="9.24" text-anchor="middle" fill="#222" stroke="#222" stroke-width="0.2">21</text>
<line x1="181.21" y1="369.40" x2="181.21" y2="371.80" stroke="#555" stroke-width="0.9"/>
<text transform="translate(181.21 380.60) scale(0.91 1)" font-size="9.24" text-anchor="middle" fill="#222" stroke="#222" stroke-width="0.2">14</text>
<line x1="190.73" y1="369.40" x2="190.73" y2="371.80" stroke="#555" stroke-width="0.9"/>
<text transform="translate(190.73 380.60) scale(0.91 1)" font-size="9.24" text-anchor="middle" fill="#222" stroke="#222" stroke-width="0.2">11</text>
<line x1="200.25" y1="369.40" x2="200.25" y2="371.80" stroke="#555" stroke-width="0.9"/>
<text transform="translate(200.25 380.60) scale(0.91 1)" font-size="9.24" text-anchor="middle" fill="#222" stroke="#222" stroke-width="0.2">16</text>
<line x1="209.77" y1="369.40" x2="209.77" y2="371.80" stroke="#555" stroke-width="0.9"/>
<text transform="translate(209.77 380.60) scale(0.91 1)" font-size="9.24" text-anchor="middle" fill="#222" stroke="#222" stroke-width="0.2">7</text>
<line x1="219.29" y1="369.40" x2="219.29" y2="371.80" stroke="#555" stroke-width="0.9"/>
<text transform="translate(219.29 380.60) scale(0.91 1)" font-size="9.24" text-anchor="middle" fill="#222" stroke="#222" stroke-width="0.2">18</text>
<line x1="228.81" y1="369.40" x2="228.81" y2="371.80" stroke="#555" stroke-width="0.9"/>
<text transform="translate(228.81 380.60) scale(0.91 1)" font-size="9.24" text-anchor="middle" fill="#222" stroke="#222" stroke-width="0.2">9</text>
<line x1="238.33" y1="369.40" x2="238.33" y2="371.80" stroke="#555" stroke-width="0.9"/>
<text transform="translate(238.33 380.60) scale(0.91 1)" font-size="9.24" text-anchor="middle" fill="#222" stroke="#222" stroke-width="0.2">5</text>
<line x1="247.85" y1="369.40" x2="247.85" y2="371.80" stroke="#555" stroke-width="0.9"/>
<text transform="translate(247.85 380.60) scale(0.91 1)" font-size="9.24" text-anchor="middle" fill="#222" stroke="#222" stroke-width="0.2">3</text>
<line x1="264.35" y1="369.40" x2="264.35" y2="371.80" stroke="#555" stroke-width="0.9"/>
<text transform="translate(264.35 380.60) scale(0.91 1)" font-size="9.24" text-anchor="middle" fill="#222" stroke="#222" stroke-width="0.2">6</text>
<line x1="273.87" y1="369.40" x2="273.87" y2="371.80" stroke="#555" stroke-width="0.9"/>
<text transform="translate(273.87 380.60) scale(0.91 1)" font-size="9.24" text-anchor="middle" fill="#222" stroke="#222" stroke-width="0.2">20</text>
<line x1="283.39" y1="369.40" x2="283.39" y2="371.80" stroke="#555" stroke-width="0.9"/>
<text transform="translate(283.39 380.60) scale(0.91 1)" font-size="9.24" text-anchor="middle" fill="#222" stroke="#222" stroke-width="0.2">10</text>
<line x1="292.91" y1="369.40" x2="292.91" y2="371.80" stroke="#555" stroke-width="0.9"/>
<text transform="translate(292.91 380.60) scale(0.91 1)" font-size="9.24" text-anchor="middle" fill="#222" stroke="#222" stroke-width="0.2">13</text>
<line x1="302.43" y1="369.40" x2="302.43" y2="371.80" stroke="#555" stroke-width="0.9"/>
<text transform="translate(302.43 380.60) scale(0.91 1)" font-size="9.24" text-anchor="middle" fill="#222" stroke="#222" stroke-width="0.2">15</text>
<line x1="311.95" y1="369.40" x2="311.95" y2="371.80" stroke="#555" stroke-width="0.9"/>
<text transform="translate(311.95 380.60) scale(0.91 1)" font-size="9.24" text-anchor="middle" fill="#222" stroke="#222" stroke-width="0.2">4</text>
<line x1="321.47" y1="369.40" x2="321.47" y2="371.80" stroke="#555" stroke-width="0.9"/>
<text transform="translate(321.47 380.60) scale(0.91 1)" font-size="9.24" text-anchor="middle" fill="#222" stroke="#222" stroke-width="0.2">2</text>
<line x1="330.99" y1="369.40" x2="330.99" y2="371.80" stroke="#555" stroke-width="0.9"/>
<text transform="translate(330.99 380.60) scale(0.91 1)" font-size="9.24" text-anchor="middle" fill="#222" stroke="#222" stroke-width="0.2">23</text>
<line x1="340.51" y1="369.40" x2="340.51" y2="371.80" stroke="#555" stroke-width="0.9"/>
<text transform="translate(340.51 380.60) scale(0.91 1)" font-size="9.24" text-anchor="middle" fill="#222" stroke="#222" stroke-width="0.2">19</text>
<line x1="350.03" y1="369.40" x2="350.03" y2="371.80" stroke="#555" stroke-width="0.9"/>
<text transform="translate(350.03 380.60) scale(0.91 1)" font-size="9.24" text-anchor="middle" fill="#222" stroke="#222" stroke-width="0.2">1</text>
<text transform="translate(144.20 380.60) scale(0.91 1)" font-size="9.24" text-anchor="end" fill="#222" stroke="#222" stroke-width="0.2">Patient</text>
<line x1="147.70" y1="382.90" x2="252.50" y2="382.90" stroke="#555" stroke-width="1.3"/>
<line x1="260.00" y1="382.90" x2="354.50" y2="382.90" stroke="#555" stroke-width="1.3"/>
<text transform="translate(197.00 392.20) scale(0.91 1)" font-size="9.24" text-anchor="middle" fill="#222" stroke="#222" stroke-width="0.2">NR</text>
<text transform="translate(307.00 392.20) scale(0.91 1)" font-size="9.24" text-anchor="middle" fill="#222" stroke="#222" stroke-width="0.2">R</text>
<text transform="translate(257.50 237.70) scale(0.91 1)" font-size="11.00" text-anchor="middle" font-weight="bold" fill="#000">IgH</text>
<text transform="translate(124.20 310.80) rotate(-90) scale(0.91 1)" font-size="9.02" text-anchor="middle" fill="#222" stroke="#222" stroke-width="0.2">Clonal Proportion</text>
<rect x="415.50" y="242.50" width="211.20" height="127.10" fill="#fff" stroke="#999" stroke-width="1.2"/>
<rect x="418.40" y="244.90" width="8.40" height="122.00" fill="#E5461F"/>
<rect x="418.40" y="248.44" width="8.40" height="118.46" fill="#EB6B25"/>
<rect x="418.40" y="252.10" width="8.40" height="114.80" fill="#F2912D"/>
<rect x="418.40" y="257.47" width="8.40" height="109.43" fill="#F3B351"/>
<rect x="418.40" y="261.98" width="8.40" height="104.92" fill="#DDD898"/>
<rect x="418.40" y="265.88" width="8.40" height="101.02" fill="#D5E9E3"/>
<rect x="418.40" y="300.53" width="8.40" height="66.37" fill="#AAD7E5"/>
<rect x="418.40" y="349.82" width="8.40" height="17.08" fill="#8AC4EA"/>
<rect x="428.31" y="244.90" width="8.40" height="122.00" fill="#E5461F"/>
<rect x="428.31" y="250.88" width="8.40" height="116.02" fill="#EB6B25"/>
<rect x="428.31" y="261.61" width="8.40" height="105.29" fill="#F2912D"/>
<rect x="428.31" y="268.20" width="8.40" height="98.70" fill="#F3B351"/>
<rect x="428.31" y="272.72" width="8.40" height="94.18" fill="#DDD898"/>
<rect x="428.31" y="278.08" width="8.40" height="88.82" fill="#D5E9E3"/>
<rect x="428.31" y="301.39" width="8.40" height="65.51" fill="#AAD7E5"/>
<rect x="428.31" y="313.46" width="8.40" height="53.44" fill="#8AC4EA"/>
<rect x="438.22" y="244.90" width="8.40" height="122.00" fill="#E5461F"/>
<rect x="438.22" y="260.15" width="8.40" height="106.75" fill="#EB6B25"/>
<rect x="438.22" y="264.66" width="8.40" height="102.24" fill="#F2912D"/>
<rect x="438.22" y="268.20" width="8.40" height="98.70" fill="#F3B351"/>
<rect x="438.22" y="270.89" width="8.40" height="96.01" fill="#DDD898"/>
<rect x="438.22" y="274.91" width="8.40" height="91.99" fill="#D5E9E3"/>
<rect x="438.22" y="280.77" width="8.40" height="86.13" fill="#AAD7E5"/>
<rect x="438.22" y="292.85" width="8.40" height="74.05" fill="#8AC4EA"/>
<rect x="448.13" y="244.90" width="8.40" height="122.00" fill="#E5461F"/>
<rect x="448.13" y="249.41" width="8.40" height="117.49" fill="#EB6B25"/>
<rect x="448.13" y="252.59" width="8.40" height="114.31" fill="#F2912D"/>
<rect x="448.13" y="255.15" width="8.40" height="111.75" fill="#F3B351"/>
<rect x="448.13" y="257.47" width="8.40" height="109.43" fill="#DDD898"/>
<rect x="448.13" y="259.30" width="8.40" height="107.60" fill="#D5E9E3"/>
<rect x="448.13" y="265.15" width="8.40" height="101.75" fill="#AAD7E5"/>
<rect x="448.13" y="283.82" width="8.40" height="83.08" fill="#8AC4EA"/>
<rect x="458.04" y="244.90" width="8.40" height="122.00" fill="#E5461F"/>
<rect x="458.04" y="245.63" width="8.40" height="121.27" fill="#F2912D"/>
<rect x="458.04" y="246.12" width="8.40" height="120.78" fill="#F3B351"/>
<rect x="458.04" y="246.73" width="8.40" height="120.17" fill="#D5E9E3"/>
<rect x="458.04" y="254.78" width="8.40" height="112.12" fill="#AAD7E5"/>
<rect x="458.04" y="270.03" width="8.40" height="96.87" fill="#8AC4EA"/>
<rect x="467.95" y="244.90" width="8.40" height="122.00" fill="#E5461F"/>
<rect x="467.95" y="250.27" width="8.40" height="116.63" fill="#EB6B25"/>
<rect x="467.95" y="252.59" width="8.40" height="114.31" fill="#F2912D"/>
<rect x="467.95" y="255.15" width="8.40" height="111.75" fill="#F3B351"/>
<rect x="467.95" y="257.47" width="8.40" height="109.43" fill="#DDD898"/>
<rect x="467.95" y="258.32" width="8.40" height="108.58" fill="#D5E9E3"/>
<rect x="467.95" y="270.52" width="8.40" height="96.38" fill="#AAD7E5"/>
<rect x="467.95" y="283.82" width="8.40" height="83.08" fill="#8AC4EA"/>
<rect x="467.95" y="354.33" width="8.40" height="12.57" fill="#66A4DA"/>
<rect x="477.86" y="244.90" width="8.40" height="122.00" fill="#E5461F"/>
<rect x="477.86" y="248.44" width="8.40" height="118.46" fill="#EB6B25"/>
<rect x="477.86" y="252.95" width="8.40" height="113.95" fill="#F2912D"/>
<rect x="477.86" y="255.15" width="8.40" height="111.75" fill="#F3B351"/>
<rect x="477.86" y="257.47" width="8.40" height="109.43" fill="#DDD898"/>
<rect x="477.86" y="259.30" width="8.40" height="107.60" fill="#D5E9E3"/>
<rect x="477.86" y="268.81" width="8.40" height="98.09" fill="#AAD7E5"/>
<rect x="477.86" y="282.60" width="8.40" height="84.30" fill="#8AC4EA"/>
<rect x="477.86" y="349.82" width="8.40" height="17.08" fill="#66A4DA"/>
<rect x="487.77" y="244.90" width="8.40" height="122.00" fill="#E5461F"/>
<rect x="487.77" y="246.73" width="8.40" height="120.17" fill="#EB6B25"/>
<rect x="487.77" y="247.95" width="8.40" height="118.95" fill="#F2912D"/>
<rect x="487.77" y="249.05" width="8.40" height="117.85" fill="#F3B351"/>
<rect x="487.77" y="250.27" width="8.40" height="116.63" fill="#D5E9E3"/>
<rect x="487.77" y="256.25" width="8.40" height="110.65" fill="#AAD7E5"/>
<rect x="487.77" y="262.83" width="8.40" height="104.07" fill="#8AC4EA"/>
<rect x="487.77" y="299.68" width="8.40" height="67.22" fill="#66A4DA"/>
<rect x="497.68" y="244.90" width="8.40" height="122.00" fill="#E5461F"/>
<rect x="497.68" y="245.51" width="8.40" height="121.39" fill="#F2912D"/>
<rect x="497.68" y="246.12" width="8.40" height="120.78" fill="#DDD898"/>
<rect x="497.68" y="247.22" width="8.40" height="119.68" fill="#D5E9E3"/>
<rect x="497.68" y="250.88" width="8.40" height="116.02" fill="#AAD7E5"/>
<rect x="497.68" y="255.15" width="8.40" height="111.75" fill="#8AC4EA"/>
<rect x="497.68" y="277.23" width="8.40" height="89.67" fill="#66A4DA"/>
<rect x="507.59" y="244.90" width="8.40" height="122.00" fill="#E5461F"/>
<rect x="507.59" y="245.51" width="8.40" height="121.39" fill="#F2912D"/>
<rect x="507.59" y="246.12" width="8.40" height="120.78" fill="#D5E9E3"/>
<rect x="507.59" y="248.44" width="8.40" height="118.46" fill="#AAD7E5"/>
<rect x="507.59" y="253.93" width="8.40" height="112.97" fill="#8AC4EA"/>
<rect x="507.59" y="272.35" width="8.40" height="94.55" fill="#66A4DA"/>
<rect x="507.59" y="363.24" width="8.40" height="3.66" fill="#3A73BE"/>
<rect x="517.50" y="244.90" width="8.40" height="122.00" fill="#E5461F"/>
<rect x="517.50" y="245.51" width="8.40" height="121.39" fill="#F2912D"/>
<rect x="517.50" y="246.12" width="8.40" height="120.78" fill="#DDD898"/>
<rect x="517.50" y="247.22" width="8.40" height="119.68" fill="#D5E9E3"/>
<rect x="517.50" y="249.41" width="8.40" height="117.49" fill="#AAD7E5"/>
<rect x="517.50" y="250.27" width="8.40" height="116.63" fill="#8AC4EA"/>
<rect x="517.50" y="256.61" width="8.40" height="110.29" fill="#66A4DA"/>
<rect x="517.50" y="299.68" width="8.40" height="67.22" fill="#3A73BE"/>
<rect x="536.10" y="244.90" width="8.40" height="122.00" fill="#E5461F"/>
<rect x="536.10" y="302.85" width="8.40" height="64.05" fill="#EB6B25"/>
<rect x="536.10" y="313.10" width="8.40" height="53.80" fill="#F2912D"/>
<rect x="536.10" y="318.47" width="8.40" height="48.43" fill="#F3B351"/>
<rect x="536.10" y="323.83" width="8.40" height="43.07" fill="#DDD898"/>
<rect x="536.10" y="329.81" width="8.40" height="37.09" fill="#D5E9E3"/>
<rect x="545.98" y="244.90" width="8.40" height="122.00" fill="#E5461F"/>
<rect x="545.98" y="261.98" width="8.40" height="104.92" fill="#EB6B25"/>
<rect x="545.98" y="265.88" width="8.40" height="101.02" fill="#F2912D"/>
<rect x="545.98" y="269.18" width="8.40" height="97.72" fill="#F3B351"/>
<rect x="545.98" y="270.89" width="8.40" height="96.01" fill="#DDD898"/>
<rect x="545.98" y="272.35" width="8.40" height="94.55" fill="#D5E9E3"/>
<rect x="545.98" y="292.85" width="8.40" height="74.05" fill="#AAD7E5"/>
<rect x="545.98" y="308.58" width="8.40" height="58.32" fill="#8AC4EA"/>
<rect x="555.85" y="244.90" width="8.40" height="122.00" fill="#E5461F"/>
<rect x="555.85" y="247.22" width="8.40" height="119.68" fill="#EB6B25"/>
<rect x="555.85" y="248.44" width="8.40" height="118.46" fill="#F2912D"/>
<rect x="555.85" y="250.27" width="8.40" height="116.63" fill="#F3B351"/>
<rect x="555.85" y="251.49" width="8.40" height="115.41" fill="#DDD898"/>
<rect x="555.85" y="252.95" width="8.40" height="113.95" fill="#D5E9E3"/>
<rect x="555.85" y="257.47" width="8.40" height="109.43" fill="#AAD7E5"/>
<rect x="555.85" y="263.69" width="8.40" height="103.21" fill="#8AC4EA"/>
<rect x="555.85" y="280.77" width="8.40" height="86.13" fill="#66A4DA"/>
<rect x="565.73" y="244.90" width="8.40" height="122.00" fill="#E5461F"/>
<rect x="565.73" y="247.22" width="8.40" height="119.68" fill="#EB6B25"/>
<rect x="565.73" y="248.44" width="8.40" height="118.46" fill="#F3B351"/>
<rect x="565.73" y="249.41" width="8.40" height="117.49" fill="#DDD898"/>
<rect x="565.73" y="250.27" width="8.40" height="116.63" fill="#D5E9E3"/>
<rect x="565.73" y="251.49" width="8.40" height="115.41" fill="#AAD7E5"/>
<rect x="565.73" y="253.93" width="8.40" height="112.97" fill="#8AC4EA"/>
<rect x="565.73" y="265.88" width="8.40" height="101.02" fill="#66A4DA"/>
<rect x="565.73" y="348.97" width="8.40" height="17.93" fill="#3A73BE"/>
<rect x="575.60" y="244.90" width="8.40" height="122.00" fill="#F2912D"/>
<rect x="575.60" y="246.12" width="8.40" height="120.78" fill="#D5E9E3"/>
<rect x="575.60" y="247.95" width="8.40" height="118.95" fill="#8AC4EA"/>
<rect x="575.60" y="261.61" width="8.40" height="105.29" fill="#66A4DA"/>
<rect x="575.60" y="307.73" width="8.40" height="59.17" fill="#3A73BE"/>
<rect x="585.48" y="244.90" width="8.40" height="122.00" fill="#DDD898"/>
<rect x="585.48" y="245.75" width="8.40" height="121.15" fill="#AAD7E5"/>
<rect x="585.48" y="246.73" width="8.40" height="120.17" fill="#8AC4EA"/>
<rect x="585.48" y="253.93" width="8.40" height="112.97" fill="#66A4DA"/>
<rect x="585.48" y="287.48" width="8.40" height="79.42" fill="#3A73BE"/>
<rect x="595.35" y="244.90" width="8.40" height="122.00" fill="#F2912D"/>
<rect x="595.35" y="246.12" width="8.40" height="120.78" fill="#AAD7E5"/>
<rect x="595.35" y="247.58" width="8.40" height="119.32" fill="#8AC4EA"/>
<rect x="595.35" y="251.12" width="8.40" height="115.78" fill="#66A4DA"/>
<rect x="595.35" y="276.62" width="8.40" height="90.28" fill="#3A73BE"/>
<rect x="595.35" y="363.36" width="8.40" height="3.54" fill="#1C4A9A"/>
<rect x="605.23" y="244.90" width="8.40" height="122.00" fill="#D5E9E3"/>
<rect x="605.23" y="245.39" width="8.40" height="121.51" fill="#8AC4EA"/>
<rect x="605.23" y="246.85" width="8.40" height="120.05" fill="#66A4DA"/>
<rect x="605.23" y="264.66" width="8.40" height="102.24" fill="#3A73BE"/>
<rect x="605.23" y="320.78" width="8.40" height="46.12" fill="#1C4A9A"/>
<rect x="615.10" y="244.90" width="8.40" height="122.00" fill="#F3B351"/>
<rect x="615.10" y="245.63" width="8.40" height="121.27" fill="#8AC4EA"/>
<rect x="615.10" y="248.68" width="8.40" height="118.22" fill="#66A4DA"/>
<rect x="615.10" y="266.98" width="8.40" height="99.92" fill="#3A73BE"/>
<rect x="615.10" y="328.84" width="8.40" height="38.06" fill="#1C4A9A"/>
<line x1="412.70" y1="244.90" x2="415.50" y2="244.90" stroke="#555" stroke-width="0.9"/>
<text transform="translate(413.20 247.90) scale(0.91 1)" font-size="9.24" text-anchor="end" fill="#222" stroke="#222" stroke-width="0.2">1.00</text>
<line x1="412.70" y1="275.40" x2="415.50" y2="275.40" stroke="#555" stroke-width="0.9"/>
<text transform="translate(413.20 278.40) scale(0.91 1)" font-size="9.24" text-anchor="end" fill="#222" stroke="#222" stroke-width="0.2">0.75</text>
<line x1="412.70" y1="305.90" x2="415.50" y2="305.90" stroke="#555" stroke-width="0.9"/>
<text transform="translate(413.20 308.90) scale(0.91 1)" font-size="9.24" text-anchor="end" fill="#222" stroke="#222" stroke-width="0.2">0.50</text>
<line x1="412.70" y1="336.40" x2="415.50" y2="336.40" stroke="#555" stroke-width="0.9"/>
<text transform="translate(413.20 339.40) scale(0.91 1)" font-size="9.24" text-anchor="end" fill="#222" stroke="#222" stroke-width="0.2">0.25</text>
<line x1="412.70" y1="366.90" x2="415.50" y2="366.90" stroke="#555" stroke-width="0.9"/>
<text transform="translate(413.20 369.90) scale(0.91 1)" font-size="9.24" text-anchor="end" fill="#222" stroke="#222" stroke-width="0.2">0</text>
<line x1="422.60" y1="370.00" x2="422.60" y2="372.40" stroke="#555" stroke-width="0.9"/>
<text transform="translate(422.60 379.50) scale(0.91 1)" font-size="9.24" text-anchor="middle" fill="#222" stroke="#222" stroke-width="0.2">22</text>
<line x1="432.51" y1="370.00" x2="432.51" y2="372.40" stroke="#555" stroke-width="0.9"/>
<text transform="translate(432.51 379.50) scale(0.91 1)" font-size="9.24" text-anchor="middle" fill="#222" stroke="#222" stroke-width="0.2">21</text>
<line x1="442.42" y1="370.00" x2="442.42" y2="372.40" stroke="#555" stroke-width="0.9"/>
<text transform="translate(442.42 379.50) scale(0.91 1)" font-size="9.24" text-anchor="middle" fill="#222" stroke="#222" stroke-width="0.2">11</text>
<line x1="452.33" y1="370.00" x2="452.33" y2="372.40" stroke="#555" stroke-width="0.9"/>
<text transform="translate(452.33 379.50) scale(0.91 1)" font-size="9.24" text-anchor="middle" fill="#222" stroke="#222" stroke-width="0.2">5</text>
<line x1="462.24" y1="370.00" x2="462.24" y2="372.40" stroke="#555" stroke-width="0.9"/>
<text transform="translate(462.24 379.50) scale(0.91 1)" font-size="9.24" text-anchor="middle" fill="#222" stroke="#222" stroke-width="0.2">7</text>
<line x1="472.15" y1="370.00" x2="472.15" y2="372.40" stroke="#555" stroke-width="0.9"/>
<text transform="translate(472.15 379.50) scale(0.91 1)" font-size="9.24" text-anchor="middle" fill="#222" stroke="#222" stroke-width="0.2">16</text>
<line x1="482.06" y1="370.00" x2="482.06" y2="372.40" stroke="#555" stroke-width="0.9"/>
<text transform="translate(482.06 379.50) scale(0.91 1)" font-size="9.24" text-anchor="middle" fill="#222" stroke="#222" stroke-width="0.2">12</text>
<line x1="491.97" y1="370.00" x2="491.97" y2="372.40" stroke="#555" stroke-width="0.9"/>
<text transform="translate(491.97 379.50) scale(0.91 1)" font-size="9.24" text-anchor="middle" fill="#222" stroke="#222" stroke-width="0.2">9</text>
<line x1="501.88" y1="370.00" x2="501.88" y2="372.40" stroke="#555" stroke-width="0.9"/>
<text transform="translate(501.88 379.50) scale(0.91 1)" font-size="9.24" text-anchor="middle" fill="#222" stroke="#222" stroke-width="0.2">14</text>
<line x1="511.79" y1="370.00" x2="511.79" y2="372.40" stroke="#555" stroke-width="0.9"/>
<text transform="translate(511.79 379.50) scale(0.91 1)" font-size="9.24" text-anchor="middle" fill="#222" stroke="#222" stroke-width="0.2">3</text>
<line x1="521.70" y1="370.00" x2="521.70" y2="372.40" stroke="#555" stroke-width="0.9"/>
<text transform="translate(521.70 379.50) scale(0.91 1)" font-size="9.24" text-anchor="middle" fill="#222" stroke="#222" stroke-width="0.2">8</text>
<line x1="540.30" y1="370.00" x2="540.30" y2="372.40" stroke="#555" stroke-width="0.9"/>
<text transform="translate(540.30 379.50) scale(0.91 1)" font-size="9.24" text-anchor="middle" fill="#222" stroke="#222" stroke-width="0.2">20</text>
<line x1="550.18" y1="370.00" x2="550.18" y2="372.40" stroke="#555" stroke-width="0.9"/>
<text transform="translate(550.18 379.50) scale(0.91 1)" font-size="9.24" text-anchor="middle" fill="#222" stroke="#222" stroke-width="0.2">4</text>
<line x1="560.05" y1="370.00" x2="560.05" y2="372.40" stroke="#555" stroke-width="0.9"/>
<text transform="translate(560.05 379.50) scale(0.91 1)" font-size="9.24" text-anchor="middle" fill="#222" stroke="#222" stroke-width="0.2">6</text>
<line x1="569.93" y1="370.00" x2="569.93" y2="372.40" stroke="#555" stroke-width="0.9"/>
<text transform="translate(569.93 379.50) scale(0.91 1)" font-size="9.24" text-anchor="middle" fill="#222" stroke="#222" stroke-width="0.2">23</text>
<line x1="579.80" y1="370.00" x2="579.80" y2="372.40" stroke="#555" stroke-width="0.9"/>
<text transform="translate(579.80 379.50) scale(0.91 1)" font-size="9.24" text-anchor="middle" fill="#222" stroke="#222" stroke-width="0.2">10</text>
<line x1="589.68" y1="370.00" x2="589.68" y2="372.40" stroke="#555" stroke-width="0.9"/>
<text transform="translate(589.68 379.50) scale(0.91 1)" font-size="9.24" text-anchor="middle" fill="#222" stroke="#222" stroke-width="0.2">1</text>
<line x1="599.55" y1="370.00" x2="599.55" y2="372.40" stroke="#555" stroke-width="0.9"/>
<text transform="translate(599.55 379.50) scale(0.91 1)" font-size="9.24" text-anchor="middle" fill="#222" stroke="#222" stroke-width="0.2">13</text>
<line x1="609.43" y1="370.00" x2="609.43" y2="372.40" stroke="#555" stroke-width="0.9"/>
<text transform="translate(609.43 379.50) scale(0.91 1)" font-size="9.24" text-anchor="middle" fill="#222" stroke="#222" stroke-width="0.2">15</text>
<line x1="619.30" y1="370.00" x2="619.30" y2="372.40" stroke="#555" stroke-width="0.9"/>
<text transform="translate(619.30 379.50) scale(0.91 1)" font-size="9.24" text-anchor="middle" fill="#222" stroke="#222" stroke-width="0.2">2</text>
<text transform="translate(411.60 379.50) scale(0.91 1)" font-size="9.24" text-anchor="end" fill="#222" stroke="#222" stroke-width="0.2">Patient</text>
<line x1="416.50" y1="383.10" x2="527.00" y2="383.10" stroke="#555" stroke-width="1.3"/>
<line x1="537.00" y1="383.10" x2="623.50" y2="383.10" stroke="#555" stroke-width="1.3"/>
<text transform="translate(471.70 392.00) scale(0.91 1)" font-size="9.24" text-anchor="middle" fill="#222" stroke="#222" stroke-width="0.2">NR</text>
<text transform="translate(579.50 392.00) scale(0.91 1)" font-size="9.24" text-anchor="middle" fill="#222" stroke="#222" stroke-width="0.2">R</text>
<text transform="translate(526.00 238.00) scale(0.91 1)" font-size="11.00" text-anchor="middle" font-weight="bold" fill="#000">IgH</text>
<text transform="translate(391.00 314.80) rotate(-90) scale(0.91 1)" font-size="9.02" text-anchor="middle" fill="#222" stroke="#222" stroke-width="0.2">Clonal Proportion</text>
<rect x="149.80" y="413.70" width="206.90" height="125.30" fill="#fff" stroke="#999" stroke-width="1.2"/>
<rect x="151.40" y="416.20" width="8.00" height="121.20" fill="#E5461F"/>
<rect x="151.40" y="445.77" width="8.00" height="91.63" fill="#EB6B25"/>
<rect x="151.40" y="470.50" width="8.00" height="66.90" fill="#F2912D"/>
<rect x="151.40" y="473.89" width="8.00" height="63.51" fill="#F3B351"/>
<rect x="151.40" y="480.07" width="8.00" height="57.33" fill="#DDD898"/>
<rect x="151.40" y="482.01" width="8.00" height="55.39" fill="#D5E9E3"/>
<rect x="151.40" y="488.19" width="8.00" height="49.21" fill="#AAD7E5"/>
<rect x="151.40" y="498.98" width="8.00" height="38.42" fill="#8AC4EA"/>
<rect x="160.88" y="416.20" width="8.00" height="121.20" fill="#E5461F"/>
<rect x="160.88" y="442.02" width="8.00" height="95.38" fill="#EB6B25"/>
<rect x="160.88" y="445.77" width="8.00" height="91.63" fill="#F2912D"/>
<rect x="160.88" y="448.92" width="8.00" height="88.48" fill="#F3B351"/>
<rect x="160.88" y="452.20" width="8.00" height="85.20" fill="#DDD898"/>
<rect x="160.88" y="455.47" width="8.00" height="81.93" fill="#D5E9E3"/>
<rect x="160.88" y="464.32" width="8.00" height="73.08" fill="#AAD7E5"/>
<rect x="160.88" y="470.01" width="8.00" height="67.39" fill="#8AC4EA"/>
<rect x="170.36" y="416.20" width="8.00" height="121.20" fill="#E5461F"/>
<rect x="170.36" y="432.93" width="8.00" height="104.47" fill="#EB6B25"/>
<rect x="170.36" y="440.68" width="8.00" height="96.72" fill="#F2912D"/>
<rect x="170.36" y="447.71" width="8.00" height="89.69" fill="#F3B351"/>
<rect x="170.36" y="455.47" width="8.00" height="81.93" fill="#DDD898"/>
<rect x="170.36" y="459.83" width="8.00" height="77.57" fill="#D5E9E3"/>
<rect x="170.36" y="486.25" width="8.00" height="51.15" fill="#AAD7E5"/>
<rect x="170.36" y="507.95" width="8.00" height="29.45" fill="#8AC4EA"/>
<rect x="179.84" y="416.20" width="8.00" height="121.20" fill="#E5461F"/>
<rect x="179.84" y="425.29" width="8.00" height="112.11" fill="#EB6B25"/>
<rect x="179.84" y="431.96" width="8.00" height="105.44" fill="#F2912D"/>
<rect x="179.84" y="439.23" width="8.00" height="98.17" fill="#F3B351"/>
<rect x="179.84" y="445.41" width="8.00" height="91.99" fill="#DDD898"/>
<rect x="179.84" y="450.26" width="8.00" height="87.14" fill="#D5E9E3"/>
<rect x="179.84" y="461.77" width="8.00" height="75.63" fill="#AAD7E5"/>
<rect x="179.84" y="477.77" width="8.00" height="59.63" fill="#8AC4EA"/>
<rect x="189.32" y="416.20" width="8.00" height="121.20" fill="#E5461F"/>
<rect x="189.32" y="420.44" width="8.00" height="116.96" fill="#EB6B25"/>
<rect x="189.32" y="423.35" width="8.00" height="114.05" fill="#F2912D"/>
<rect x="189.32" y="426.62" width="8.00" height="110.78" fill="#F3B351"/>
<rect x="189.32" y="429.05" width="8.00" height="108.35" fill="#DDD898"/>
<rect x="189.32" y="430.99" width="8.00" height="106.41" fill="#D5E9E3"/>
<rect x="189.32" y="435.47" width="8.00" height="101.93" fill="#AAD7E5"/>
<rect x="189.32" y="471.47" width="8.00" height="65.93" fill="#8AC4EA"/>
<rect x="198.80" y="416.20" width="8.00" height="121.20" fill="#E5461F"/>
<rect x="198.80" y="425.29" width="8.00" height="112.11" fill="#EB6B25"/>
<rect x="198.80" y="430.02" width="8.00" height="107.38" fill="#F2912D"/>
<rect x="198.80" y="434.86" width="8.00" height="102.54" fill="#F3B351"/>
<rect x="198.80" y="438.74" width="8.00" height="98.66" fill="#DDD898"/>
<rect x="198.80" y="442.02" width="8.00" height="95.38" fill="#D5E9E3"/>
<rect x="198.80" y="452.80" width="8.00" height="84.60" fill="#AAD7E5"/>
<rect x="198.80" y="465.65" width="8.00" height="71.75" fill="#8AC4EA"/>
<rect x="198.80" y="531.10" width="8.00" height="6.30" fill="#66A4DA"/>
<rect x="208.28" y="416.20" width="8.00" height="121.20" fill="#E5461F"/>
<rect x="208.28" y="421.41" width="8.00" height="115.99" fill="#EB6B25"/>
<rect x="208.28" y="424.32" width="8.00" height="113.08" fill="#F2912D"/>
<rect x="208.28" y="426.26" width="8.00" height="111.14" fill="#F3B351"/>
<rect x="208.28" y="428.08" width="8.00" height="109.32" fill="#DDD898"/>
<rect x="208.28" y="429.65" width="8.00" height="107.75" fill="#D5E9E3"/>
<rect x="208.28" y="443.95" width="8.00" height="93.45" fill="#AAD7E5"/>
<rect x="208.28" y="464.32" width="8.00" height="73.08" fill="#8AC4EA"/>
<rect x="208.28" y="520.07" width="8.00" height="17.33" fill="#66A4DA"/>
<rect x="217.76" y="416.20" width="8.00" height="121.20" fill="#E5461F"/>
<rect x="217.76" y="418.14" width="8.00" height="119.26" fill="#EB6B25"/>
<rect x="217.76" y="420.08" width="8.00" height="117.32" fill="#F2912D"/>
<rect x="217.76" y="422.02" width="8.00" height="115.38" fill="#F3B351"/>
<rect x="217.76" y="424.32" width="8.00" height="113.08" fill="#DDD898"/>
<rect x="217.76" y="425.77" width="8.00" height="111.63" fill="#D5E9E3"/>
<rect x="217.76" y="434.26" width="8.00" height="103.14" fill="#AAD7E5"/>
<rect x="217.76" y="455.11" width="8.00" height="82.29" fill="#8AC4EA"/>
<rect x="217.76" y="517.04" width="8.00" height="20.36" fill="#66A4DA"/>
<rect x="227.24" y="416.20" width="8.00" height="121.20" fill="#E5461F"/>
<rect x="227.24" y="418.14" width="8.00" height="119.26" fill="#EB6B25"/>
<rect x="227.24" y="420.44" width="8.00" height="116.96" fill="#F2912D"/>
<rect x="227.24" y="422.38" width="8.00" height="115.02" fill="#F3B351"/>
<rect x="227.24" y="423.84" width="8.00" height="113.56" fill="#DDD898"/>
<rect x="227.24" y="425.29" width="8.00" height="112.11" fill="#D5E9E3"/>
<rect x="227.24" y="431.59" width="8.00" height="105.81" fill="#AAD7E5"/>
<rect x="227.24" y="442.02" width="8.00" height="95.38" fill="#8AC4EA"/>
<rect x="227.24" y="477.16" width="8.00" height="60.24" fill="#66A4DA"/>
<rect x="236.72" y="416.20" width="8.00" height="121.20" fill="#F2912D"/>
<rect x="236.72" y="418.14" width="8.00" height="119.26" fill="#DDD898"/>
<rect x="236.72" y="418.87" width="8.00" height="118.53" fill="#D5E9E3"/>
<rect x="236.72" y="421.41" width="8.00" height="115.99" fill="#AAD7E5"/>
<rect x="236.72" y="423.84" width="8.00" height="113.56" fill="#8AC4EA"/>
<rect x="236.72" y="440.08" width="8.00" height="97.32" fill="#66A4DA"/>
<rect x="236.72" y="521.40" width="8.00" height="16.00" fill="#3A73BE"/>
<rect x="246.20" y="416.20" width="8.00" height="121.20" fill="#F2912D"/>
<rect x="246.20" y="416.93" width="8.00" height="120.47" fill="#D5E9E3"/>
<rect x="246.20" y="418.50" width="8.00" height="118.90" fill="#AAD7E5"/>
<rect x="246.20" y="420.44" width="8.00" height="116.96" fill="#8AC4EA"/>
<rect x="246.20" y="425.29" width="8.00" height="112.11" fill="#66A4DA"/>
<rect x="246.20" y="465.04" width="8.00" height="72.36" fill="#3A73BE"/>
<rect x="262.20" y="416.20" width="8.00" height="121.20" fill="#E5461F"/>
<rect x="262.20" y="418.99" width="8.00" height="118.41" fill="#EB6B25"/>
<rect x="262.20" y="421.53" width="8.00" height="115.87" fill="#F2912D"/>
<rect x="262.20" y="424.08" width="8.00" height="113.32" fill="#F3B351"/>
<rect x="262.20" y="426.26" width="8.00" height="111.14" fill="#DDD898"/>
<rect x="262.20" y="428.20" width="8.00" height="109.20" fill="#D5E9E3"/>
<rect x="262.20" y="432.93" width="8.00" height="104.47" fill="#AAD7E5"/>
<rect x="262.20" y="443.59" width="8.00" height="93.81" fill="#8AC4EA"/>
<rect x="262.20" y="481.89" width="8.00" height="55.51" fill="#66A4DA"/>
<rect x="271.61" y="416.20" width="8.00" height="121.20" fill="#E5461F"/>
<rect x="271.61" y="417.41" width="8.00" height="119.99" fill="#EB6B25"/>
<rect x="271.61" y="418.50" width="8.00" height="118.90" fill="#F2912D"/>
<rect x="271.61" y="419.59" width="8.00" height="117.81" fill="#DDD898"/>
<rect x="271.61" y="421.53" width="8.00" height="115.87" fill="#D5E9E3"/>
<rect x="271.61" y="425.65" width="8.00" height="111.75" fill="#AAD7E5"/>
<rect x="271.61" y="426.14" width="8.00" height="111.26" fill="#8AC4EA"/>
<rect x="271.61" y="454.01" width="8.00" height="83.39" fill="#66A4DA"/>
<rect x="281.02" y="416.20" width="8.00" height="121.20" fill="#E5461F"/>
<rect x="281.02" y="417.41" width="8.00" height="119.99" fill="#D5E9E3"/>
<rect x="281.02" y="418.99" width="8.00" height="118.41" fill="#AAD7E5"/>
<rect x="281.02" y="421.53" width="8.00" height="115.87" fill="#8AC4EA"/>
<rect x="281.02" y="438.99" width="8.00" height="98.41" fill="#66A4DA"/>
<rect x="281.02" y="513.16" width="8.00" height="24.24" fill="#3A73BE"/>
<rect x="290.43" y="416.20" width="8.00" height="121.20" fill="#E5461F"/>
<rect x="290.43" y="417.41" width="8.00" height="119.99" fill="#D5E9E3"/>
<rect x="290.43" y="418.50" width="8.00" height="118.90" fill="#AAD7E5"/>
<rect x="290.43" y="420.68" width="8.00" height="116.72" fill="#8AC4EA"/>
<rect x="290.43" y="434.50" width="8.00" height="102.90" fill="#66A4DA"/>
<rect x="290.43" y="500.68" width="8.00" height="36.72" fill="#3A73BE"/>
<rect x="299.84" y="416.20" width="8.00" height="121.20" fill="#E5461F"/>
<rect x="299.84" y="417.41" width="8.00" height="119.99" fill="#D5E9E3"/>
<rect x="299.84" y="418.99" width="8.00" height="118.41" fill="#AAD7E5"/>
<rect x="299.84" y="420.68" width="8.00" height="116.72" fill="#8AC4EA"/>
<rect x="299.84" y="434.86" width="8.00" height="102.54" fill="#66A4DA"/>
<rect x="299.84" y="505.77" width="8.00" height="31.63" fill="#3A73BE"/>
<rect x="309.25" y="416.20" width="8.00" height="121.20" fill="#F2912D"/>
<rect x="309.25" y="417.41" width="8.00" height="119.99" fill="#D5E9E3"/>
<rect x="309.25" y="418.99" width="8.00" height="118.41" fill="#AAD7E5"/>
<rect x="309.25" y="420.68" width="8.00" height="116.72" fill="#8AC4EA"/>
<rect x="309.25" y="435.71" width="8.00" height="101.69" fill="#66A4DA"/>
<rect x="309.25" y="503.22" width="8.00" height="34.18" fill="#3A73BE"/>
<rect x="318.66" y="416.20" width="8.00" height="121.20" fill="#F2912D"/>
<rect x="318.66" y="416.93" width="8.00" height="120.47" fill="#D5E9E3"/>
<rect x="318.66" y="418.14" width="8.00" height="119.26" fill="#AAD7E5"/>
<rect x="318.66" y="420.68" width="8.00" height="116.72" fill="#8AC4EA"/>
<rect x="318.66" y="429.05" width="8.00" height="108.35" fill="#66A4DA"/>
<rect x="318.66" y="480.68" width="8.00" height="56.72" fill="#3A73BE"/>
<rect x="328.07" y="416.20" width="8.00" height="121.20" fill="#F3B351"/>
<rect x="328.07" y="417.41" width="8.00" height="119.99" fill="#AAD7E5"/>
<rect x="328.07" y="418.99" width="8.00" height="118.41" fill="#8AC4EA"/>
<rect x="328.07" y="426.87" width="8.00" height="110.53" fill="#66A4DA"/>
<rect x="328.07" y="476.80" width="8.00" height="60.60" fill="#3A73BE"/>
<rect x="337.48" y="416.20" width="8.00" height="121.20" fill="#DDD898"/>
<rect x="337.48" y="417.41" width="8.00" height="119.99" fill="#D5E9E3"/>
<rect x="337.48" y="418.99" width="8.00" height="118.41" fill="#AAD7E5"/>
<rect x="337.48" y="421.53" width="8.00" height="115.87" fill="#8AC4EA"/>
<rect x="337.48" y="436.56" width="8.00" height="100.84" fill="#66A4DA"/>
<rect x="337.48" y="479.10" width="8.00" height="58.30" fill="#3A73BE"/>
<rect x="346.89" y="416.20" width="8.00" height="121.20" fill="#F2912D"/>
<rect x="346.89" y="417.41" width="8.00" height="119.99" fill="#AAD7E5"/>
<rect x="346.89" y="418.50" width="8.00" height="118.90" fill="#8AC4EA"/>
<rect x="346.89" y="420.68" width="8.00" height="116.72" fill="#66A4DA"/>
<rect x="346.89" y="452.92" width="8.00" height="84.48" fill="#3A73BE"/>
<line x1="147.00" y1="416.20" x2="149.80" y2="416.20" stroke="#555" stroke-width="0.9"/>
<text transform="translate(146.30 419.20) scale(0.91 1)" font-size="9.24" text-anchor="end" fill="#222" stroke="#222" stroke-width="0.2">1.00</text>
<line x1="147.00" y1="446.50" x2="149.80" y2="446.50" stroke="#555" stroke-width="0.9"/>
<text transform="translate(146.30 449.50) scale(0.91 1)" font-size="9.24" text-anchor="end" fill="#222" stroke="#222" stroke-width="0.2">0.75</text>
<line x1="147.00" y1="476.80" x2="149.80" y2="476.80" stroke="#555" stroke-width="0.9"/>
<text transform="translate(146.30 479.80) scale(0.91 1)" font-size="9.24" text-anchor="end" fill="#222" stroke="#222" stroke-width="0.2">0.50</text>
<line x1="147.00" y1="507.10" x2="149.80" y2="507.10" stroke="#555" stroke-width="0.9"/>
<text transform="translate(146.30 510.10) scale(0.91 1)" font-size="9.24" text-anchor="end" fill="#222" stroke="#222" stroke-width="0.2">0.25</text>
<line x1="147.00" y1="537.40" x2="149.80" y2="537.40" stroke="#555" stroke-width="0.9"/>
<text transform="translate(146.30 540.40) scale(0.91 1)" font-size="9.24" text-anchor="end" fill="#222" stroke="#222" stroke-width="0.2">0</text>
<line x1="155.40" y1="539.40" x2="155.40" y2="541.80" stroke="#555" stroke-width="0.9"/>
<text transform="translate(155.40 549.60) scale(0.91 1)" font-size="9.24" text-anchor="middle" fill="#222" stroke="#222" stroke-width="0.2">12</text>
<line x1="164.88" y1="539.40" x2="164.88" y2="541.80" stroke="#555" stroke-width="0.9"/>
<text transform="translate(164.88 549.60) scale(0.91 1)" font-size="9.24" text-anchor="middle" fill="#222" stroke="#222" stroke-width="0.2">14</text>
<line x1="174.36" y1="539.40" x2="174.36" y2="541.80" stroke="#555" stroke-width="0.9"/>
<text transform="translate(174.36 549.60) scale(0.91 1)" font-size="9.24" text-anchor="middle" fill="#222" stroke="#222" stroke-width="0.2">21</text>
<line x1="183.84" y1="539.40" x2="183.84" y2="541.80" stroke="#555" stroke-width="0.9"/>
<text transform="translate(183.84 549.60) scale(0.91 1)" font-size="9.24" text-anchor="middle" fill="#222" stroke="#222" stroke-width="0.2">8</text>
<line x1="193.32" y1="539.40" x2="193.32" y2="541.80" stroke="#555" stroke-width="0.9"/>
<text transform="translate(193.32 549.60) scale(0.91 1)" font-size="9.24" text-anchor="middle" fill="#222" stroke="#222" stroke-width="0.2">16</text>
<line x1="202.80" y1="539.40" x2="202.80" y2="541.80" stroke="#555" stroke-width="0.9"/>
<text transform="translate(202.80 549.60) scale(0.91 1)" font-size="9.24" text-anchor="middle" fill="#222" stroke="#222" stroke-width="0.2">7</text>
<line x1="212.28" y1="539.40" x2="212.28" y2="541.80" stroke="#555" stroke-width="0.9"/>
<text transform="translate(212.28 549.60) scale(0.91 1)" font-size="9.24" text-anchor="middle" fill="#222" stroke="#222" stroke-width="0.2">11</text>
<line x1="221.76" y1="539.40" x2="221.76" y2="541.80" stroke="#555" stroke-width="0.9"/>
<text transform="translate(221.76 549.60) scale(0.91 1)" font-size="9.24" text-anchor="middle" fill="#222" stroke="#222" stroke-width="0.2">18</text>
<line x1="231.24" y1="539.40" x2="231.24" y2="541.80" stroke="#555" stroke-width="0.9"/>
<text transform="translate(231.24 549.60) scale(0.91 1)" font-size="9.24" text-anchor="middle" fill="#222" stroke="#222" stroke-width="0.2">9</text>
<line x1="240.72" y1="539.40" x2="240.72" y2="541.80" stroke="#555" stroke-width="0.9"/>
<text transform="translate(240.72 549.60) scale(0.91 1)" font-size="9.24" text-anchor="middle" fill="#222" stroke="#222" stroke-width="0.2">3</text>
<line x1="250.20" y1="539.40" x2="250.20" y2="541.80" stroke="#555" stroke-width="0.9"/>
<text transform="translate(250.20 549.60) scale(0.91 1)" font-size="9.24" text-anchor="middle" fill="#222" stroke="#222" stroke-width="0.2">5</text>
<line x1="266.20" y1="539.40" x2="266.20" y2="541.80" stroke="#555" stroke-width="0.9"/>
<text transform="translate(266.20 549.60) scale(0.91 1)" font-size="9.24" text-anchor="middle" fill="#222" stroke="#222" stroke-width="0.2">6</text>
<line x1="275.61" y1="539.40" x2="275.61" y2="541.80" stroke="#555" stroke-width="0.9"/>
<text transform="translate(275.61 549.60) scale(0.91 1)" font-size="9.24" text-anchor="middle" fill="#222" stroke="#222" stroke-width="0.2">15</text>
<line x1="285.02" y1="539.40" x2="285.02" y2="541.80" stroke="#555" stroke-width="0.9"/>
<text transform="translate(285.02 549.60) scale(0.91 1)" font-size="9.24" text-anchor="middle" fill="#222" stroke="#222" stroke-width="0.2">20</text>
<line x1="294.43" y1="539.40" x2="294.43" y2="541.80" stroke="#555" stroke-width="0.9"/>
<text transform="translate(294.43 549.60) scale(0.91 1)" font-size="9.24" text-anchor="middle" fill="#222" stroke="#222" stroke-width="0.2">10</text>
<line x1="303.84" y1="539.40" x2="303.84" y2="541.80" stroke="#555" stroke-width="0.9"/>
<text transform="translate(303.84 549.60) scale(0.91 1)" font-size="9.24" text-anchor="middle" fill="#222" stroke="#222" stroke-width="0.2">23</text>
<line x1="313.25" y1="539.40" x2="313.25" y2="541.80" stroke="#555" stroke-width="0.9"/>
<text transform="translate(313.25 549.60) scale(0.91 1)" font-size="9.24" text-anchor="middle" fill="#222" stroke="#222" stroke-width="0.2">13</text>
<line x1="322.66" y1="539.40" x2="322.66" y2="541.80" stroke="#555" stroke-width="0.9"/>
<text transform="translate(322.66 549.60) scale(0.91 1)" font-size="9.24" text-anchor="middle" fill="#222" stroke="#222" stroke-width="0.2">4</text>
<line x1="332.07" y1="539.40" x2="332.07" y2="541.80" stroke="#555" stroke-width="0.9"/>
<text transform="translate(332.07 549.60) scale(0.91 1)" font-size="9.24" text-anchor="middle" fill="#222" stroke="#222" stroke-width="0.2">19</text>
<line x1="341.48" y1="539.40" x2="341.48" y2="541.80" stroke="#555" stroke-width="0.9"/>
<text transform="translate(341.48 549.60) scale(0.91 1)" font-size="9.24" text-anchor="middle" fill="#222" stroke="#222" stroke-width="0.2">1</text>
<line x1="350.89" y1="539.40" x2="350.89" y2="541.80" stroke="#555" stroke-width="0.9"/>
<text transform="translate(350.89 549.60) scale(0.91 1)" font-size="9.24" text-anchor="middle" fill="#222" stroke="#222" stroke-width="0.2">2</text>
<text transform="translate(146.30 549.60) scale(0.91 1)" font-size="9.24" text-anchor="end" fill="#222" stroke="#222" stroke-width="0.2">Patient</text>
<line x1="150.50" y1="552.10" x2="254.50" y2="552.10" stroke="#555" stroke-width="1.3"/>
<line x1="261.70" y1="552.50" x2="355.00" y2="552.50" stroke="#555" stroke-width="1.3"/>
<text transform="translate(200.20 561.40) scale(0.91 1)" font-size="9.24" text-anchor="middle" fill="#222" stroke="#222" stroke-width="0.2">NR</text>
<text transform="translate(306.70 561.90) scale(0.91 1)" font-size="9.24" text-anchor="middle" fill="#222" stroke="#222" stroke-width="0.2">R</text>
<text transform="translate(257.50 405.00) scale(0.91 1)" font-size="11.00" text-anchor="middle" font-weight="bold" fill="#000">IgL</text>
<text transform="translate(123.80 485.80) rotate(-90) scale(0.91 1)" font-size="9.02" text-anchor="middle" fill="#222" stroke="#222" stroke-width="0.2">Clonal Proportion</text>
<rect x="415.90" y="413.10" width="210.80" height="126.00" fill="#fff" stroke="#999" stroke-width="1.2"/>
<rect x="417.90" y="415.80" width="8.40" height="120.10" fill="#E5461F"/>
<rect x="417.90" y="422.41" width="8.40" height="113.49" fill="#EB6B25"/>
<rect x="417.90" y="427.81" width="8.40" height="108.09" fill="#F2912D"/>
<rect x="417.90" y="436.82" width="8.40" height="99.08" fill="#F3B351"/>
<rect x="417.90" y="445.82" width="8.40" height="90.07" fill="#DDD898"/>
<rect x="417.90" y="450.27" width="8.40" height="85.63" fill="#D5E9E3"/>
<rect x="417.90" y="465.04" width="8.40" height="70.86" fill="#AAD7E5"/>
<rect x="417.90" y="485.82" width="8.40" height="50.08" fill="#8AC4EA"/>
<rect x="427.91" y="415.80" width="8.40" height="120.10" fill="#E5461F"/>
<rect x="427.91" y="417.60" width="8.40" height="118.30" fill="#EB6B25"/>
<rect x="427.91" y="422.41" width="8.40" height="113.49" fill="#F2912D"/>
<rect x="427.91" y="426.97" width="8.40" height="108.93" fill="#F3B351"/>
<rect x="427.91" y="434.06" width="8.40" height="101.84" fill="#DDD898"/>
<rect x="427.91" y="438.62" width="8.40" height="97.28" fill="#D5E9E3"/>
<rect x="427.91" y="452.91" width="8.40" height="82.99" fill="#AAD7E5"/>
<rect x="427.91" y="485.82" width="8.40" height="50.08" fill="#8AC4EA"/>
<rect x="437.92" y="415.80" width="8.40" height="120.10" fill="#E5461F"/>
<rect x="437.92" y="423.37" width="8.40" height="112.53" fill="#EB6B25"/>
<rect x="437.92" y="428.77" width="8.40" height="107.13" fill="#F2912D"/>
<rect x="437.92" y="433.21" width="8.40" height="102.69" fill="#F3B351"/>
<rect x="437.92" y="436.82" width="8.40" height="99.08" fill="#DDD898"/>
<rect x="437.92" y="439.46" width="8.40" height="96.44" fill="#D5E9E3"/>
<rect x="437.92" y="449.91" width="8.40" height="85.99" fill="#AAD7E5"/>
<rect x="437.92" y="463.72" width="8.40" height="72.18" fill="#8AC4EA"/>
<rect x="447.93" y="415.80" width="8.40" height="120.10" fill="#E5461F"/>
<rect x="447.93" y="418.80" width="8.40" height="117.10" fill="#EB6B25"/>
<rect x="447.93" y="422.41" width="8.40" height="113.49" fill="#F2912D"/>
<rect x="447.93" y="425.53" width="8.40" height="110.37" fill="#F3B351"/>
<rect x="447.93" y="428.77" width="8.40" height="107.13" fill="#DDD898"/>
<rect x="447.93" y="432.01" width="8.40" height="103.89" fill="#D5E9E3"/>
<rect x="447.93" y="443.06" width="8.40" height="92.84" fill="#AAD7E5"/>
<rect x="447.93" y="458.92" width="8.40" height="76.98" fill="#8AC4EA"/>
<rect x="457.94" y="415.80" width="8.40" height="120.10" fill="#E5461F"/>
<rect x="457.94" y="424.21" width="8.40" height="111.69" fill="#EB6B25"/>
<rect x="457.94" y="430.21" width="8.40" height="105.69" fill="#F2912D"/>
<rect x="457.94" y="434.42" width="8.40" height="101.48" fill="#F3B351"/>
<rect x="457.94" y="437.66" width="8.40" height="98.24" fill="#DDD898"/>
<rect x="457.94" y="440.42" width="8.40" height="95.48" fill="#D5E9E3"/>
<rect x="457.94" y="448.83" width="8.40" height="87.07" fill="#AAD7E5"/>
<rect x="457.94" y="455.67" width="8.40" height="80.23" fill="#8AC4EA"/>
<rect x="467.95" y="415.80" width="8.40" height="120.10" fill="#E5461F"/>
<rect x="467.95" y="452.07" width="8.40" height="83.83" fill="#EB6B25"/>
<rect x="467.95" y="461.08" width="8.40" height="74.82" fill="#F2912D"/>
<rect x="467.95" y="464.68" width="8.40" height="71.22" fill="#DDD898"/>
<rect x="467.95" y="466.84" width="8.40" height="69.06" fill="#D5E9E3"/>
<rect x="467.95" y="478.13" width="8.40" height="57.77" fill="#AAD7E5"/>
<rect x="467.95" y="490.62" width="8.40" height="45.28" fill="#8AC4EA"/>
<rect x="477.96" y="415.80" width="8.40" height="120.10" fill="#E5461F"/>
<rect x="477.96" y="426.01" width="8.40" height="109.89" fill="#EB6B25"/>
<rect x="477.96" y="430.57" width="8.40" height="105.33" fill="#F2912D"/>
<rect x="477.96" y="435.02" width="8.40" height="100.88" fill="#F3B351"/>
<rect x="477.96" y="439.82" width="8.40" height="96.08" fill="#DDD898"/>
<rect x="477.96" y="442.22" width="8.40" height="93.68" fill="#D5E9E3"/>
<rect x="477.96" y="444.50" width="8.40" height="91.40" fill="#AAD7E5"/>
<rect x="477.96" y="466.12" width="8.40" height="69.78" fill="#8AC4EA"/>
<rect x="477.96" y="514.88" width="8.40" height="21.02" fill="#66A4DA"/>
<rect x="487.97" y="415.80" width="8.40" height="120.10" fill="#E5461F"/>
<rect x="487.97" y="416.88" width="8.40" height="119.02" fill="#F2912D"/>
<rect x="487.97" y="417.96" width="8.40" height="117.94" fill="#DDD898"/>
<rect x="487.97" y="418.80" width="8.40" height="117.10" fill="#D5E9E3"/>
<rect x="487.97" y="422.41" width="8.40" height="113.49" fill="#AAD7E5"/>
<rect x="487.97" y="427.81" width="8.40" height="108.09" fill="#8AC4EA"/>
<rect x="487.97" y="459.64" width="8.40" height="76.26" fill="#66A4DA"/>
<rect x="497.98" y="415.80" width="8.40" height="120.10" fill="#F2912D"/>
<rect x="497.98" y="417.00" width="8.40" height="118.90" fill="#DDD898"/>
<rect x="497.98" y="417.96" width="8.40" height="117.94" fill="#D5E9E3"/>
<rect x="497.98" y="418.80" width="8.40" height="117.10" fill="#AAD7E5"/>
<rect x="497.98" y="421.93" width="8.40" height="113.97" fill="#8AC4EA"/>
<rect x="497.98" y="444.02" width="8.40" height="91.88" fill="#66A4DA"/>
<rect x="507.99" y="415.80" width="8.40" height="120.10" fill="#F2912D"/>
<rect x="507.99" y="417.00" width="8.40" height="118.90" fill="#D5E9E3"/>
<rect x="507.99" y="417.96" width="8.40" height="117.94" fill="#AAD7E5"/>
<rect x="507.99" y="420.12" width="8.40" height="115.78" fill="#8AC4EA"/>
<rect x="507.99" y="430.93" width="8.40" height="104.97" fill="#66A4DA"/>
<rect x="507.99" y="487.02" width="8.40" height="48.88" fill="#3A73BE"/>
<rect x="518.00" y="415.80" width="8.40" height="120.10" fill="#F2912D"/>
<rect x="518.00" y="417.36" width="8.40" height="118.54" fill="#D5E9E3"/>
<rect x="518.00" y="419.76" width="8.40" height="116.14" fill="#8AC4EA"/>
<rect x="518.00" y="426.97" width="8.40" height="108.93" fill="#66A4DA"/>
<rect x="518.00" y="469.12" width="8.40" height="66.78" fill="#3A73BE"/>
<rect x="534.80" y="415.80" width="8.40" height="120.10" fill="#E5461F"/>
<rect x="534.80" y="429.61" width="8.40" height="106.29" fill="#EB6B25"/>
<rect x="534.80" y="439.10" width="8.40" height="96.80" fill="#F2912D"/>
<rect x="534.80" y="448.83" width="8.40" height="87.07" fill="#F3B351"/>
<rect x="534.80" y="453.87" width="8.40" height="82.03" fill="#DDD898"/>
<rect x="534.80" y="458.92" width="8.40" height="76.98" fill="#D5E9E3"/>
<rect x="534.80" y="487.98" width="8.40" height="47.92" fill="#AAD7E5"/>
<rect x="544.85" y="415.80" width="8.40" height="120.10" fill="#E5461F"/>
<rect x="544.85" y="419.40" width="8.40" height="116.50" fill="#EB6B25"/>
<rect x="544.85" y="421.93" width="8.40" height="113.97" fill="#F2912D"/>
<rect x="544.85" y="424.21" width="8.40" height="111.69" fill="#DDD898"/>
<rect x="544.85" y="426.97" width="8.40" height="108.93" fill="#D5E9E3"/>
<rect x="544.85" y="438.02" width="8.40" height="97.88" fill="#AAD7E5"/>
<rect x="544.85" y="448.83" width="8.40" height="87.07" fill="#8AC4EA"/>
<rect x="554.90" y="415.80" width="8.40" height="120.10" fill="#E5461F"/>
<rect x="554.90" y="417.96" width="8.40" height="117.94" fill="#EB6B25"/>
<rect x="554.90" y="419.76" width="8.40" height="116.14" fill="#F2912D"/>
<rect x="554.90" y="421.20" width="8.40" height="114.70" fill="#DDD898"/>
<rect x="554.90" y="421.93" width="8.40" height="113.97" fill="#D5E9E3"/>
<rect x="554.90" y="427.81" width="8.40" height="108.09" fill="#AAD7E5"/>
<rect x="554.90" y="437.30" width="8.40" height="98.60" fill="#8AC4EA"/>
<rect x="554.90" y="469.97" width="8.40" height="65.93" fill="#66A4DA"/>
<rect x="564.95" y="415.80" width="8.40" height="120.10" fill="#E5461F"/>
<rect x="564.95" y="417.36" width="8.40" height="118.54" fill="#F2912D"/>
<rect x="564.95" y="417.96" width="8.40" height="117.94" fill="#D5E9E3"/>
<rect x="564.95" y="421.20" width="8.40" height="114.70" fill="#AAD7E5"/>
<rect x="564.95" y="426.01" width="8.40" height="109.89" fill="#8AC4EA"/>
<rect x="564.95" y="444.02" width="8.40" height="91.88" fill="#66A4DA"/>
<rect x="575.00" y="415.80" width="8.40" height="120.10" fill="#E5461F"/>
<rect x="575.00" y="418.80" width="8.40" height="117.10" fill="#DDD898"/>
<rect x="575.00" y="420.12" width="8.40" height="115.78" fill="#D5E9E3"/>
<rect x="575.00" y="421.93" width="8.40" height="113.97" fill="#AAD7E5"/>
<rect x="575.00" y="424.21" width="8.40" height="111.69" fill="#8AC4EA"/>
<rect x="575.00" y="439.10" width="8.40" height="96.80" fill="#66A4DA"/>
<rect x="575.00" y="525.09" width="8.40" height="10.81" fill="#3A73BE"/>
<rect x="585.05" y="415.80" width="8.40" height="120.10" fill="#D5E9E3"/>
<rect x="585.05" y="416.52" width="8.40" height="119.38" fill="#8AC4EA"/>
<rect x="585.05" y="423.01" width="8.40" height="112.89" fill="#66A4DA"/>
<rect x="585.05" y="453.27" width="8.40" height="82.63" fill="#3A73BE"/>
<rect x="595.10" y="415.80" width="8.40" height="120.10" fill="#D5E9E3"/>
<rect x="595.10" y="416.52" width="8.40" height="119.38" fill="#8AC4EA"/>
<rect x="595.10" y="419.76" width="8.40" height="116.14" fill="#66A4DA"/>
<rect x="595.10" y="443.06" width="8.40" height="92.84" fill="#3A73BE"/>
<rect x="595.10" y="527.85" width="8.40" height="8.05" fill="#1C4A9A"/>
<rect x="605.15" y="415.80" width="8.40" height="120.10" fill="#D5E9E3"/>
<rect x="605.15" y="416.52" width="8.40" height="119.38" fill="#8AC4EA"/>
<rect x="605.15" y="418.80" width="8.40" height="117.10" fill="#66A4DA"/>
<rect x="605.15" y="442.58" width="8.40" height="93.32" fill="#3A73BE"/>
<rect x="605.15" y="517.88" width="8.40" height="18.02" fill="#1C4A9A"/>
<rect x="615.20" y="415.80" width="8.40" height="120.10" fill="#D5E9E3"/>
<rect x="615.20" y="416.52" width="8.40" height="119.38" fill="#8AC4EA"/>
<rect x="615.20" y="417.96" width="8.40" height="117.94" fill="#66A4DA"/>
<rect x="615.20" y="435.86" width="8.40" height="100.04" fill="#3A73BE"/>
<rect x="615.20" y="500.47" width="8.40" height="35.43" fill="#1C4A9A"/>
<line x1="413.10" y1="415.80" x2="415.90" y2="415.80" stroke="#555" stroke-width="0.9"/>
<text transform="translate(413.70 418.80) scale(0.91 1)" font-size="9.24" text-anchor="end" fill="#222" stroke="#222" stroke-width="0.2">1.00</text>
<line x1="413.10" y1="445.82" x2="415.90" y2="445.82" stroke="#555" stroke-width="0.9"/>
<text transform="translate(413.70 448.82) scale(0.91 1)" font-size="9.24" text-anchor="end" fill="#222" stroke="#222" stroke-width="0.2">0.75</text>
<line x1="413.10" y1="475.85" x2="415.90" y2="475.85" stroke="#555" stroke-width="0.9"/>
<text transform="translate(413.70 478.85) scale(0.91 1)" font-size="9.24" text-anchor="end" fill="#222" stroke="#222" stroke-width="0.2">0.50</text>
<line x1="413.10" y1="505.88" x2="415.90" y2="505.88" stroke="#555" stroke-width="0.9"/>
<text transform="translate(413.70 508.88) scale(0.91 1)" font-size="9.24" text-anchor="end" fill="#222" stroke="#222" stroke-width="0.2">0.25</text>
<line x1="413.10" y1="535.90" x2="415.90" y2="535.90" stroke="#555" stroke-width="0.9"/>
<text transform="translate(413.70 538.90) scale(0.91 1)" font-size="9.24" text-anchor="end" fill="#222" stroke="#222" stroke-width="0.2">0</text>
<line x1="422.10" y1="539.50" x2="422.10" y2="541.90" stroke="#555" stroke-width="0.9"/>
<text transform="translate(422.10 550.80) scale(0.91 1)" font-size="9.24" text-anchor="middle" fill="#222" stroke="#222" stroke-width="0.2">22</text>
<line x1="432.11" y1="539.50" x2="432.11" y2="541.90" stroke="#555" stroke-width="0.9"/>
<text transform="translate(432.11 550.80) scale(0.91 1)" font-size="9.24" text-anchor="middle" fill="#222" stroke="#222" stroke-width="0.2">21</text>
<line x1="442.12" y1="539.50" x2="442.12" y2="541.90" stroke="#555" stroke-width="0.9"/>
<text transform="translate(442.12 550.80) scale(0.91 1)" font-size="9.24" text-anchor="middle" fill="#222" stroke="#222" stroke-width="0.2">16</text>
<line x1="452.13" y1="539.50" x2="452.13" y2="541.90" stroke="#555" stroke-width="0.9"/>
<text transform="translate(452.13 550.80) scale(0.91 1)" font-size="9.24" text-anchor="middle" fill="#222" stroke="#222" stroke-width="0.2">5</text>
<line x1="462.14" y1="539.50" x2="462.14" y2="541.90" stroke="#555" stroke-width="0.9"/>
<text transform="translate(462.14 550.80) scale(0.91 1)" font-size="9.24" text-anchor="middle" fill="#222" stroke="#222" stroke-width="0.2">7</text>
<line x1="472.15" y1="539.50" x2="472.15" y2="541.90" stroke="#555" stroke-width="0.9"/>
<text transform="translate(472.15 550.80) scale(0.91 1)" font-size="9.24" text-anchor="middle" fill="#222" stroke="#222" stroke-width="0.2">11</text>
<line x1="482.16" y1="539.50" x2="482.16" y2="541.90" stroke="#555" stroke-width="0.9"/>
<text transform="translate(482.16 550.80) scale(0.91 1)" font-size="9.24" text-anchor="middle" fill="#222" stroke="#222" stroke-width="0.2">12</text>
<line x1="492.17" y1="539.50" x2="492.17" y2="541.90" stroke="#555" stroke-width="0.9"/>
<text transform="translate(492.17 550.80) scale(0.91 1)" font-size="9.24" text-anchor="middle" fill="#222" stroke="#222" stroke-width="0.2">9</text>
<line x1="502.18" y1="539.50" x2="502.18" y2="541.90" stroke="#555" stroke-width="0.9"/>
<text transform="translate(502.18 550.80) scale(0.91 1)" font-size="9.24" text-anchor="middle" fill="#222" stroke="#222" stroke-width="0.2">14</text>
<line x1="512.19" y1="539.50" x2="512.19" y2="541.90" stroke="#555" stroke-width="0.9"/>
<text transform="translate(512.19 550.80) scale(0.91 1)" font-size="9.24" text-anchor="middle" fill="#222" stroke="#222" stroke-width="0.2">3</text>
<line x1="522.20" y1="539.50" x2="522.20" y2="541.90" stroke="#555" stroke-width="0.9"/>
<text transform="translate(522.20 550.80) scale(0.91 1)" font-size="9.24" text-anchor="middle" fill="#222" stroke="#222" stroke-width="0.2">8</text>
<line x1="539.00" y1="539.50" x2="539.00" y2="541.90" stroke="#555" stroke-width="0.9"/>
<text transform="translate(539.00 550.80) scale(0.91 1)" font-size="9.24" text-anchor="middle" fill="#222" stroke="#222" stroke-width="0.2">20</text>
<line x1="549.05" y1="539.50" x2="549.05" y2="541.90" stroke="#555" stroke-width="0.9"/>
<text transform="translate(549.05 550.80) scale(0.91 1)" font-size="9.24" text-anchor="middle" fill="#222" stroke="#222" stroke-width="0.2">4</text>
<line x1="559.10" y1="539.50" x2="559.10" y2="541.90" stroke="#555" stroke-width="0.9"/>
<text transform="translate(559.10 550.80) scale(0.91 1)" font-size="9.24" text-anchor="middle" fill="#222" stroke="#222" stroke-width="0.2">6</text>
<line x1="569.15" y1="539.50" x2="569.15" y2="541.90" stroke="#555" stroke-width="0.9"/>
<text transform="translate(569.15 550.80) scale(0.91 1)" font-size="9.24" text-anchor="middle" fill="#222" stroke="#222" stroke-width="0.2">23</text>
<line x1="579.20" y1="539.50" x2="579.20" y2="541.90" stroke="#555" stroke-width="0.9"/>
<text transform="translate(579.20 550.80) scale(0.91 1)" font-size="9.24" text-anchor="middle" fill="#222" stroke="#222" stroke-width="0.2">10</text>
<line x1="589.25" y1="539.50" x2="589.25" y2="541.90" stroke="#555" stroke-width="0.9"/>
<text transform="translate(589.25 550.80) scale(0.91 1)" font-size="9.24" text-anchor="middle" fill="#222" stroke="#222" stroke-width="0.2">1</text>
<line x1="599.30" y1="539.50" x2="599.30" y2="541.90" stroke="#555" stroke-width="0.9"/>
<text transform="translate(599.30 550.80) scale(0.91 1)" font-size="9.24" text-anchor="middle" fill="#222" stroke="#222" stroke-width="0.2">13</text>
<line x1="609.35" y1="539.50" x2="609.35" y2="541.90" stroke="#555" stroke-width="0.9"/>
<text transform="translate(609.35 550.80) scale(0.91 1)" font-size="9.24" text-anchor="middle" fill="#222" stroke="#222" stroke-width="0.2">2</text>
<line x1="619.40" y1="539.50" x2="619.40" y2="541.90" stroke="#555" stroke-width="0.9"/>
<text transform="translate(619.40 550.80) scale(0.91 1)" font-size="9.24" text-anchor="middle" fill="#222" stroke="#222" stroke-width="0.2">15</text>
<text transform="translate(412.80 550.80) scale(0.91 1)" font-size="9.24" text-anchor="end" fill="#222" stroke="#222" stroke-width="0.2">Patient</text>
<line x1="416.50" y1="553.00" x2="527.00" y2="553.00" stroke="#555" stroke-width="1.3"/>
<line x1="535.20" y1="553.00" x2="623.80" y2="553.00" stroke="#555" stroke-width="1.3"/>
<text transform="translate(471.50 561.80) scale(0.91 1)" font-size="9.24" text-anchor="middle" fill="#222" stroke="#222" stroke-width="0.2">NR</text>
<text transform="translate(579.50 561.80) scale(0.91 1)" font-size="9.24" text-anchor="middle" fill="#222" stroke="#222" stroke-width="0.2">R</text>
<text transform="translate(525.60 405.50) scale(0.91 1)" font-size="11.00" text-anchor="middle" font-weight="bold" fill="#000">IgL</text>
<text transform="translate(391.00 477.80) rotate(-90) scale(0.91 1)" font-size="9.02" text-anchor="middle" fill="#222" stroke="#222" stroke-width="0.2">Clonal Proportion</text>
<text transform="translate(666.50 320.50) scale(0.91 1)" font-size="8.80" text-anchor="start" fill="#222" stroke="#222" stroke-width="0.2">Top N clones</text>
<rect x="667.00" y="326.60" width="10.90" height="10.80" fill="#E5461F"/>
<text transform="translate(679.70 335.10) scale(0.91 1)" font-size="9.02" text-anchor="start" fill="#222" stroke="#222" stroke-width="0.2">[1st)</text>
<rect x="667.00" y="338.60" width="10.90" height="10.80" fill="#EB6B25"/>
<text transform="translate(679.70 347.10) scale(0.91 1)" font-size="9.02" text-anchor="start" fill="#222" stroke="#222" stroke-width="0.2">[2nd)</text>
<rect x="667.00" y="350.60" width="10.90" height="10.80" fill="#F2912D"/>
<text transform="translate(679.70 359.10) scale(0.91 1)" font-size="9.02" text-anchor="start" fill="#222" stroke="#222" stroke-width="0.2">[3rd)</text>
<rect x="667.00" y="362.60" width="10.90" height="10.80" fill="#F3B351"/>
<text transform="translate(679.70 371.10) scale(0.91 1)" font-size="9.02" text-anchor="start" fill="#222" stroke="#222" stroke-width="0.2">[4th)</text>
<rect x="667.00" y="374.60" width="10.90" height="10.80" fill="#DDD898"/>
<text transform="translate(679.70 383.10) scale(0.91 1)" font-size="9.02" text-anchor="start" fill="#222" stroke="#222" stroke-width="0.2">[5th)</text>
<rect x="667.00" y="386.60" width="10.90" height="10.80" fill="#D5E9E3"/>
<text transform="translate(679.70 395.10) scale(0.91 1)" font-size="9.02" text-anchor="start" fill="#222" stroke="#222" stroke-width="0.2">[6-10)</text>
<rect x="667.00" y="398.60" width="10.90" height="10.80" fill="#AAD7E5"/>
<text transform="translate(679.70 407.10) scale(0.91 1)" font-size="9.02" text-anchor="start" fill="#222" stroke="#222" stroke-width="0.2">[11-20)</text>
<rect x="667.00" y="410.60" width="10.90" height="10.80" fill="#8AC4EA"/>
<text transform="translate(679.70 419.10) scale(0.91 1)" font-size="9.02" text-anchor="start" fill="#222" stroke="#222" stroke-width="0.2">[21-100)</text>
<rect x="667.00" y="422.60" width="10.90" height="10.80" fill="#66A4DA"/>
<text transform="translate(679.70 431.10) scale(0.91 1)" font-size="9.02" text-anchor="start" fill="#222" stroke="#222" stroke-width="0.2">[101-1,000)</text>
<rect x="667.00" y="434.60" width="10.90" height="10.80" fill="#3A73BE"/>
<text transform="translate(679.70 443.10) scale(0.91 1)" font-size="9.02" text-anchor="start" fill="#222" stroke="#222" stroke-width="0.2">[1001-10,000)</text>
<rect x="667.00" y="446.60" width="10.90" height="10.80" fill="#1C4A9A"/>
<text transform="translate(679.70 455.10) scale(0.91 1)" font-size="9.02" text-anchor="start" fill="#222" stroke="#222" stroke-width="0.2">[10,001-100,000)</text>
<text transform="translate(0.50 612.70) scale(0.91 1)" font-size="13.42" text-anchor="start" font-weight="bold" fill="#000">c</text>
<text transform="translate(0.50 838.80) scale(0.91 1)" font-size="13.42" text-anchor="start" font-weight="bold" fill="#000">d</text>
<text transform="translate(247.50 617.50) scale(0.91 1)" font-size="10.67" text-anchor="middle" font-weight="bold" fill="#000">Baseline</text>
<text transform="translate(532.50 617.50) scale(0.91 1)" font-size="10.67" text-anchor="middle" font-weight="bold" fill="#000">On-Treatment</text>
<line x1="177.10" y1="650.80" x2="177.10" y2="796.10" stroke="#000" stroke-width="1.4"/>
<line x1="176.40" y1="795.40" x2="230.70" y2="795.40" stroke="#000" stroke-width="1.4"/>
<line x1="174.30" y1="795.40" x2="177.10" y2="795.40" stroke="#000" stroke-width="1.1"/>
<text transform="translate(172.90 798.40) scale(0.91 1)" font-size="9.24" text-anchor="end" fill="#222" stroke="#222" stroke-width="0.2">0</text>
<line x1="174.30" y1="757.81" x2="177.10" y2="757.81" stroke="#000" stroke-width="1.1"/>
<text transform="translate(172.90 760.81) scale(0.91 1)" font-size="9.24" text-anchor="end" fill="#222" stroke="#222" stroke-width="0.2">3</text>
<line x1="174.30" y1="720.22" x2="177.10" y2="720.22" stroke="#000" stroke-width="1.1"/>
<text transform="translate(172.90 723.22) scale(0.91 1)" font-size="9.24" text-anchor="end" fill="#222" stroke="#222" stroke-width="0.2">6</text>
<line x1="174.30" y1="682.63" x2="177.10" y2="682.63" stroke="#000" stroke-width="1.1"/>
<text transform="translate(172.90 685.63) scale(0.91 1)" font-size="9.24" text-anchor="end" fill="#222" stroke="#222" stroke-width="0.2">9</text>
<text transform="translate(208.50 637.70) scale(0.91 1)" font-size="10.34" text-anchor="middle" font-weight="bold" fill="#000">IgH</text>
<text transform="translate(207.70 651.50) scale(0.91 1)" font-size="8.80" text-anchor="middle" fill="#222" stroke="#222" stroke-width="0.2">p = 0.001</text>
<line x1="191.70" y1="744.60" x2="191.70" y2="746.40" stroke="#111" stroke-width="1.5"/>
<line x1="191.70" y1="761.40" x2="191.70" y2="769.70" stroke="#111" stroke-width="1.5"/>
<rect x="183.10" y="746.40" width="18.00" height="15.00" fill="none" stroke="#111" stroke-width="1.5"/>
<line x1="183.10" y1="754.30" x2="201.10" y2="754.30" stroke="#111" stroke-width="2.7"/>
<circle cx="190.40" cy="669.30" r="1.5" fill="#22409B"/>
<circle cx="187.90" cy="744.00" r="1.5" fill="#22409B"/>
<circle cx="196.00" cy="746.40" r="1.5" fill="#22409B"/>
<circle cx="191.10" cy="753.10" r="1.5" fill="#22409B"/>
<circle cx="196.00" cy="755.40" r="1.5" fill="#22409B"/>
<circle cx="187.60" cy="758.60" r="1.5" fill="#22409B"/>
<circle cx="193.90" cy="762.10" r="1.5" fill="#22409B"/>
<circle cx="190.70" cy="769.30" r="1.5" fill="#22409B"/>
<circle cx="196.40" cy="771.10" r="1.5" fill="#22409B"/>
<line x1="191.70" y1="795.40" x2="191.70" y2="798.00" stroke="#000" stroke-width="1.1"/>
<text transform="translate(191.70 806.40) scale(0.91 1)" font-size="10.67" text-anchor="middle" fill="#222" stroke="#222" stroke-width="0.2">R</text>
<line x1="216.70" y1="776.00" x2="216.70" y2="777.90" stroke="#111" stroke-width="1.5"/>
<line x1="216.70" y1="785.70" x2="216.70" y2="789.00" stroke="#111" stroke-width="1.5"/>
<rect x="207.90" y="777.90" width="17.80" height="7.80" fill="none" stroke="#111" stroke-width="1.5"/>
<line x1="207.90" y1="781.10" x2="225.70" y2="781.10" stroke="#111" stroke-width="2.7"/>
<circle cx="215.70" cy="731.70" r="1.5" fill="#E8221E"/>
<circle cx="211.70" cy="775.40" r="1.5" fill="#E8221E"/>
<circle cx="221.40" cy="777.10" r="1.5" fill="#E8221E"/>
<circle cx="214.30" cy="779.70" r="1.5" fill="#E8221E"/>
<circle cx="217.10" cy="782.90" r="1.5" fill="#E8221E"/>
<circle cx="212.90" cy="784.30" r="1.5" fill="#E8221E"/>
<circle cx="219.30" cy="786.40" r="1.5" fill="#E8221E"/>
<circle cx="215.00" cy="789.30" r="1.5" fill="#E8221E"/>
<circle cx="216.40" cy="789.30" r="1.5" fill="#E8221E"/>
<line x1="216.70" y1="795.40" x2="216.70" y2="798.00" stroke="#000" stroke-width="1.1"/>
<text transform="translate(216.70 806.40) scale(0.91 1)" font-size="10.67" text-anchor="middle" fill="#222" stroke="#222" stroke-width="0.2">NR</text>
<text transform="translate(141.50 721.50) rotate(-90) scale(0.91 1)" font-size="10.84" text-anchor="middle" fill="#222" stroke="#222" stroke-width="0.2">Top 5 Clonotypes</text>
<text transform="translate(153.20 720.70) rotate(-90) scale(0.91 1)" font-size="10.84" text-anchor="middle" fill="#222" stroke="#222" stroke-width="0.2">Summed Clonal Expression</text>
<line x1="263.50" y1="651.10" x2="263.50" y2="796.00" stroke="#000" stroke-width="1.4"/>
<line x1="262.80" y1="795.30" x2="316.90" y2="795.30" stroke="#000" stroke-width="1.4"/>
<line x1="260.70" y1="795.00" x2="263.50" y2="795.00" stroke="#000" stroke-width="1.1"/>
<text transform="translate(259.00 798.00) scale(0.91 1)" font-size="9.24" text-anchor="end" fill="#222" stroke="#222" stroke-width="0.2">0</text>
<line x1="260.70" y1="761.30" x2="263.50" y2="761.30" stroke="#000" stroke-width="1.1"/>
<text transform="translate(259.00 764.30) scale(0.91 1)" font-size="9.24" text-anchor="end" fill="#222" stroke="#222" stroke-width="0.2">3</text>
<line x1="260.70" y1="722.40" x2="263.50" y2="722.40" stroke="#000" stroke-width="1.1"/>
<text transform="translate(259.00 725.40) scale(0.91 1)" font-size="9.24" text-anchor="end" fill="#222" stroke="#222" stroke-width="0.2">6</text>
<line x1="260.70" y1="682.80" x2="263.50" y2="682.80" stroke="#000" stroke-width="1.1"/>
<text transform="translate(259.00 685.80) scale(0.91 1)" font-size="9.24" text-anchor="end" fill="#222" stroke="#222" stroke-width="0.2">9</text>
<text transform="translate(288.80 637.70) scale(0.91 1)" font-size="10.34" text-anchor="middle" font-weight="bold" fill="#000">IgL</text>
<text transform="translate(288.50 651.60) scale(0.91 1)" font-size="8.80" text-anchor="middle" fill="#222" stroke="#222" stroke-width="0.2">p = 0.004</text>
<line x1="278.00" y1="707.20" x2="278.00" y2="729.00" stroke="#111" stroke-width="1.5"/>
<line x1="278.00" y1="757.80" x2="278.00" y2="764.70" stroke="#111" stroke-width="1.5"/>
<rect x="269.30" y="729.00" width="17.70" height="28.80" fill="none" stroke="#111" stroke-width="1.5"/>
<line x1="269.30" y1="740.80" x2="287.00" y2="740.80" stroke="#111" stroke-width="2.7"/>
<circle cx="281.60" cy="676.00" r="1.5" fill="#22409B"/>
<circle cx="273.50" cy="706.40" r="1.5" fill="#22409B"/>
<circle cx="279.40" cy="728.50" r="1.5" fill="#22409B"/>
<circle cx="277.10" cy="731.80" r="1.5" fill="#22409B"/>
<circle cx="276.20" cy="737.50" r="1.5" fill="#22409B"/>
<circle cx="276.20" cy="744.80" r="1.5" fill="#22409B"/>
<circle cx="273.50" cy="754.20" r="1.5" fill="#22409B"/>
<circle cx="281.20" cy="758.90" r="1.5" fill="#22409B"/>
<circle cx="283.00" cy="761.40" r="1.5" fill="#22409B"/>
<circle cx="282.10" cy="765.20" r="1.5" fill="#22409B"/>
<line x1="278.00" y1="795.30" x2="278.00" y2="797.90" stroke="#000" stroke-width="1.1"/>
<text transform="translate(278.00 806.30) scale(0.91 1)" font-size="10.67" text-anchor="middle" fill="#222" stroke="#222" stroke-width="0.2">R</text>
<line x1="302.40" y1="756.00" x2="302.40" y2="766.50" stroke="#111" stroke-width="1.5"/>
<line x1="302.40" y1="779.10" x2="302.40" y2="789.00" stroke="#111" stroke-width="1.5"/>
<rect x="293.30" y="766.50" width="18.10" height="12.60" fill="none" stroke="#111" stroke-width="1.5"/>
<line x1="293.30" y1="775.20" x2="311.40" y2="775.20" stroke="#111" stroke-width="2.7"/>
<circle cx="302.40" cy="702.30" r="1.5" fill="#E8221E"/>
<circle cx="302.40" cy="755.60" r="1.5" fill="#E8221E"/>
<circle cx="298.80" cy="760.10" r="1.5" fill="#E8221E"/>
<circle cx="297.90" cy="773.70" r="1.5" fill="#E8221E"/>
<circle cx="300.60" cy="775.50" r="1.5" fill="#E8221E"/>
<circle cx="303.30" cy="775.20" r="1.5" fill="#E8221E"/>
<circle cx="306.90" cy="776.40" r="1.5" fill="#E8221E"/>
<circle cx="300.60" cy="780.60" r="1.5" fill="#E8221E"/>
<circle cx="297.90" cy="784.20" r="1.5" fill="#E8221E"/>
<circle cx="304.20" cy="789.10" r="1.5" fill="#E8221E"/>
<line x1="302.40" y1="795.30" x2="302.40" y2="797.90" stroke="#000" stroke-width="1.1"/>
<text transform="translate(302.40 806.30) scale(0.91 1)" font-size="10.67" text-anchor="middle" fill="#222" stroke="#222" stroke-width="0.2">NR</text>
<line x1="465.50" y1="650.30" x2="465.50" y2="798.80" stroke="#000" stroke-width="1.4"/>
<line x1="464.80" y1="798.10" x2="517.50" y2="798.10" stroke="#000" stroke-width="1.4"/>
<line x1="462.70" y1="793.30" x2="465.50" y2="793.30" stroke="#000" stroke-width="1.1"/>
<text transform="translate(463.00 796.30) scale(0.91 1)" font-size="9.24" text-anchor="end" fill="#222" stroke="#222" stroke-width="0.2">0</text>
<line x1="462.70" y1="750.53" x2="465.50" y2="750.53" stroke="#000" stroke-width="1.1"/>
<text transform="translate(463.00 753.53) scale(0.91 1)" font-size="9.24" text-anchor="end" fill="#222" stroke="#222" stroke-width="0.2">5</text>
<line x1="462.70" y1="707.77" x2="465.50" y2="707.77" stroke="#000" stroke-width="1.1"/>
<text transform="translate(463.00 710.77) scale(0.91 1)" font-size="9.24" text-anchor="end" fill="#222" stroke="#222" stroke-width="0.2">10</text>
<line x1="462.70" y1="665.00" x2="465.50" y2="665.00" stroke="#000" stroke-width="1.1"/>
<text transform="translate(463.00 668.00) scale(0.91 1)" font-size="9.24" text-anchor="end" fill="#222" stroke="#222" stroke-width="0.2">15</text>
<text transform="translate(498.00 637.70) scale(0.91 1)" font-size="10.34" text-anchor="middle" font-weight="bold" fill="#000">IgH</text>
<text transform="translate(497.60 651.40) scale(0.91 1)" font-size="8.80" text-anchor="middle" fill="#222" stroke="#222" stroke-width="0.2">p = 0.1</text>
<line x1="480.20" y1="730.00" x2="480.20" y2="750.30" stroke="#111" stroke-width="1.5"/>
<line x1="480.20" y1="773.60" x2="480.20" y2="790.80" stroke="#111" stroke-width="1.5"/>
<rect x="471.00" y="750.30" width="18.20" height="23.30" fill="none" stroke="#111" stroke-width="1.5"/>
<line x1="471.00" y1="766.20" x2="489.20" y2="766.20" stroke="#111" stroke-width="2.7"/>
<circle cx="477.20" cy="656.60" r="1.5" fill="#22409B"/>
<circle cx="478.70" cy="729.60" r="1.5" fill="#22409B"/>
<circle cx="475.60" cy="757.20" r="1.5" fill="#22409B"/>
<circle cx="484.40" cy="764.00" r="1.5" fill="#22409B"/>
<circle cx="479.70" cy="767.70" r="1.5" fill="#22409B"/>
<circle cx="481.80" cy="768.80" r="1.5" fill="#22409B"/>
<circle cx="475.60" cy="787.60" r="1.5" fill="#22409B"/>
<circle cx="474.90" cy="791.20" r="1.5" fill="#22409B"/>
<line x1="480.20" y1="798.10" x2="480.20" y2="800.70" stroke="#000" stroke-width="1.1"/>
<text transform="translate(480.20 809.60) scale(0.91 1)" font-size="10.67" text-anchor="middle" fill="#222" stroke="#222" stroke-width="0.2">R</text>
<line x1="504.30" y1="776.10" x2="504.30" y2="779.20" stroke="#111" stroke-width="1.5"/>
<line x1="504.30" y1="784.00" x2="504.30" y2="789.70" stroke="#111" stroke-width="1.5"/>
<rect x="495.50" y="779.20" width="17.20" height="4.80" fill="none" stroke="#111" stroke-width="1.5"/>
<line x1="495.50" y1="782.00" x2="512.70" y2="782.00" stroke="#111" stroke-width="2.7"/>
<circle cx="503.90" cy="759.30" r="1.5" fill="#E8221E"/>
<circle cx="501.80" cy="776.10" r="1.5" fill="#E8221E"/>
<circle cx="508.00" cy="779.20" r="1.5" fill="#E8221E"/>
<circle cx="499.20" cy="781.30" r="1.5" fill="#E8221E"/>
<circle cx="503.90" cy="780.70" r="1.5" fill="#E8221E"/>
<circle cx="507.00" cy="783.40" r="1.5" fill="#E8221E"/>
<circle cx="504.90" cy="785.50" r="1.5" fill="#E8221E"/>
<circle cx="499.70" cy="788.70" r="1.5" fill="#E8221E"/>
<circle cx="501.80" cy="790.80" r="1.5" fill="#E8221E"/>
<line x1="504.30" y1="798.10" x2="504.30" y2="800.70" stroke="#000" stroke-width="1.1"/>
<text transform="translate(504.30 809.60) scale(0.91 1)" font-size="10.67" text-anchor="middle" fill="#222" stroke="#222" stroke-width="0.2">NR</text>
<text transform="translate(429.90 726.10) rotate(-90) scale(0.91 1)" font-size="10.84" text-anchor="middle" fill="#222" stroke="#222" stroke-width="0.2">Top 5 Clonotypes</text>
<text transform="translate(441.40 726.00) rotate(-90) scale(0.91 1)" font-size="10.84" text-anchor="middle" fill="#222" stroke="#222" stroke-width="0.2">Summed Clonal Expression</text>
<line x1="559.60" y1="650.10" x2="559.60" y2="798.20" stroke="#000" stroke-width="1.4"/>
<line x1="558.90" y1="797.50" x2="612.00" y2="797.50" stroke="#000" stroke-width="1.4"/>
<line x1="556.80" y1="794.90" x2="559.60" y2="794.90" stroke="#000" stroke-width="1.1"/>
<text transform="translate(554.90 797.90) scale(0.91 1)" font-size="9.24" text-anchor="end" fill="#222" stroke="#222" stroke-width="0.2">0</text>
<line x1="556.80" y1="757.23" x2="559.60" y2="757.23" stroke="#000" stroke-width="1.1"/>
<text transform="translate(554.90 760.23) scale(0.91 1)" font-size="9.24" text-anchor="end" fill="#222" stroke="#222" stroke-width="0.2">3</text>
<line x1="556.80" y1="719.57" x2="559.60" y2="719.57" stroke="#000" stroke-width="1.1"/>
<text transform="translate(554.90 722.57) scale(0.91 1)" font-size="9.24" text-anchor="end" fill="#222" stroke="#222" stroke-width="0.2">6</text>
<line x1="556.80" y1="681.90" x2="559.60" y2="681.90" stroke="#000" stroke-width="1.1"/>
<text transform="translate(554.90 684.90) scale(0.91 1)" font-size="9.24" text-anchor="end" fill="#222" stroke="#222" stroke-width="0.2">9</text>
<text transform="translate(587.60 637.50) scale(0.91 1)" font-size="10.34" text-anchor="middle" font-weight="bold" fill="#000">IgL</text>
<text transform="translate(587.60 651.40) scale(0.91 1)" font-size="8.80" text-anchor="middle" fill="#222" stroke="#222" stroke-width="0.2">p = 0.54</text>
<line x1="573.90" y1="704.80" x2="573.90" y2="729.50" stroke="#111" stroke-width="1.5"/>
<line x1="573.90" y1="767.00" x2="573.90" y2="790.50" stroke="#111" stroke-width="1.5"/>
<rect x="565.30" y="729.50" width="17.00" height="37.50" fill="none" stroke="#111" stroke-width="1.5"/>
<line x1="565.30" y1="734.30" x2="582.30" y2="734.30" stroke="#111" stroke-width="2.7"/>
<circle cx="575.20" cy="704.20" r="1.5" fill="#22409B"/>
<circle cx="576.80" cy="714.30" r="1.5" fill="#22409B"/>
<circle cx="568.60" cy="729.50" r="1.5" fill="#22409B"/>
<circle cx="571.40" cy="734.30" r="1.5" fill="#22409B"/>
<circle cx="569.50" cy="739.00" r="1.5" fill="#22409B"/>
<circle cx="573.30" cy="767.20" r="1.5" fill="#22409B"/>
<circle cx="569.50" cy="789.10" r="1.5" fill="#22409B"/>
<circle cx="577.50" cy="791.00" r="1.5" fill="#22409B"/>
<line x1="573.90" y1="797.50" x2="573.90" y2="800.10" stroke="#000" stroke-width="1.1"/>
<text transform="translate(573.90 809.50) scale(0.91 1)" font-size="10.67" text-anchor="middle" fill="#222" stroke="#222" stroke-width="0.2">R</text>
<line x1="598.10" y1="712.40" x2="598.10" y2="739.60" stroke="#111" stroke-width="1.5"/>
<line x1="598.10" y1="771.80" x2="598.10" y2="785.30" stroke="#111" stroke-width="1.5"/>
<rect x="589.10" y="739.60" width="17.20" height="32.20" fill="none" stroke="#111" stroke-width="1.5"/>
<line x1="589.10" y1="763.80" x2="606.30" y2="763.80" stroke="#111" stroke-width="2.7"/>
<circle cx="594.30" cy="657.70" r="1.5" fill="#E8221E"/>
<circle cx="598.50" cy="712.00" r="1.5" fill="#E8221E"/>
<circle cx="595.60" cy="738.50" r="1.5" fill="#E8221E"/>
<circle cx="602.50" cy="741.30" r="1.5" fill="#E8221E"/>
<circle cx="593.30" cy="763.80" r="1.5" fill="#E8221E"/>
<circle cx="597.10" cy="762.90" r="1.5" fill="#E8221E"/>
<circle cx="600.60" cy="765.70" r="1.5" fill="#E8221E"/>
<circle cx="595.20" cy="771.80" r="1.5" fill="#E8221E"/>
<circle cx="596.80" cy="784.80" r="1.5" fill="#E8221E"/>
<circle cx="601.90" cy="786.10" r="1.5" fill="#E8221E"/>
<line x1="598.10" y1="797.50" x2="598.10" y2="800.10" stroke="#000" stroke-width="1.1"/>
<text transform="translate(598.10 809.50) scale(0.91 1)" font-size="10.67" text-anchor="middle" fill="#222" stroke="#222" stroke-width="0.2">NR</text>
<text transform="translate(247.50 846.00) scale(0.91 1)" font-size="10.67" text-anchor="middle" font-weight="bold" fill="#000">Baseline</text>
<text transform="translate(526.00 846.50) scale(0.91 1)" font-size="10.67" text-anchor="middle" font-weight="bold" fill="#000">On-Treatment</text>
<line x1="162.90" y1="876.50" x2="162.90" y2="1034.90" stroke="#000" stroke-width="1.4"/>
<line x1="162.20" y1="1034.20" x2="233.10" y2="1034.20" stroke="#000" stroke-width="1.4"/>
<line x1="160.10" y1="1026.90" x2="162.90" y2="1026.90" stroke="#000" stroke-width="1.1"/>
<text transform="translate(157.30 1029.90) scale(0.91 1)" font-size="9.24" text-anchor="end" fill="#222" stroke="#222" stroke-width="0.2">0</text>
<line x1="160.10" y1="987.80" x2="162.90" y2="987.80" stroke="#000" stroke-width="1.1"/>
<text transform="translate(157.30 990.80) scale(0.91 1)" font-size="9.24" text-anchor="end" fill="#222" stroke="#222" stroke-width="0.2">300</text>
<line x1="160.10" y1="948.70" x2="162.90" y2="948.70" stroke="#000" stroke-width="1.1"/>
<text transform="translate(157.30 951.70) scale(0.91 1)" font-size="9.24" text-anchor="end" fill="#222" stroke="#222" stroke-width="0.2">600</text>
<line x1="160.10" y1="909.60" x2="162.90" y2="909.60" stroke="#000" stroke-width="1.1"/>
<text transform="translate(157.30 912.60) scale(0.91 1)" font-size="9.24" text-anchor="end" fill="#222" stroke="#222" stroke-width="0.2">900</text>
<text transform="translate(192.90 863.50) scale(0.91 1)" font-size="10.34" text-anchor="middle" font-weight="bold" fill="#000">IgH</text>
<text transform="translate(193.70 877.10) scale(0.91 1)" font-size="8.80" text-anchor="middle" fill="#222" stroke="#222" stroke-width="0.2">p = 0.002</text>
<line x1="181.80" y1="969.30" x2="181.80" y2="974.10" stroke="#111" stroke-width="1.5"/>
<line x1="181.80" y1="1009.70" x2="181.80" y2="1020.60" stroke="#111" stroke-width="1.5"/>
<rect x="170.80" y="974.10" width="23.10" height="35.60" fill="none" stroke="#111" stroke-width="1.5"/>
<line x1="170.80" y1="1004.50" x2="193.90" y2="1004.50" stroke="#111" stroke-width="2.7"/>
<circle cx="187.40" cy="898.70" r="1.5" fill="#22409B"/>
<circle cx="188.10" cy="903.70" r="1.5" fill="#22409B"/>
<circle cx="182.40" cy="968.60" r="1.5" fill="#22409B"/>
<circle cx="184.30" cy="990.20" r="1.5" fill="#22409B"/>
<circle cx="175.50" cy="1004.20" r="1.5" fill="#22409B"/>
<circle cx="177.00" cy="1010.50" r="1.5" fill="#22409B"/>
<circle cx="187.00" cy="1008.00" r="1.5" fill="#22409B"/>
<circle cx="176.10" cy="1018.50" r="1.5" fill="#22409B"/>
<circle cx="186.00" cy="1020.60" r="1.5" fill="#22409B"/>
<line x1="181.80" y1="1034.20" x2="181.80" y2="1036.80" stroke="#000" stroke-width="1.1"/>
<text transform="translate(181.80 1044.70) scale(0.91 1)" font-size="10.67" text-anchor="middle" fill="#222" stroke="#222" stroke-width="0.2">R</text>
<rect x="202.30" y="1020.60" width="23.50" height="5.20" fill="none" stroke="#111" stroke-width="1.5"/>
<line x1="202.30" y1="1024.30" x2="225.80" y2="1024.30" stroke="#111" stroke-width="2.7"/>
<circle cx="211.50" cy="959.40" r="1.5" fill="#E8221E"/>
<circle cx="214.20" cy="1010.50" r="1.5" fill="#E8221E"/>
<circle cx="211.50" cy="1020.60" r="1.5" fill="#E8221E"/>
<circle cx="207.50" cy="1025.80" r="1.5" fill="#E8221E"/>
<circle cx="213.20" cy="1024.30" r="1.5" fill="#E8221E"/>
<circle cx="216.30" cy="1026.40" r="1.5" fill="#E8221E"/>
<circle cx="220.10" cy="1025.80" r="1.5" fill="#E8221E"/>
<circle cx="209.60" cy="1024.80" r="1.5" fill="#E8221E"/>
<line x1="214.70" y1="1034.20" x2="214.70" y2="1036.80" stroke="#000" stroke-width="1.1"/>
<text transform="translate(214.70 1044.70) scale(0.91 1)" font-size="10.67" text-anchor="middle" fill="#222" stroke="#222" stroke-width="0.2">NR</text>
<text transform="translate(138.60 954.70) rotate(-90) scale(0.91 1)" font-size="10.84" text-anchor="middle" fill="#222" stroke="#222" stroke-width="0.2">BCR Repertoire Diversity</text>
<line x1="263.50" y1="877.60" x2="263.50" y2="1035.70" stroke="#000" stroke-width="1.4"/>
<line x1="262.80" y1="1035.00" x2="334.00" y2="1035.00" stroke="#000" stroke-width="1.4"/>
<line x1="260.70" y1="1029.30" x2="263.50" y2="1029.30" stroke="#000" stroke-width="1.1"/>
<text transform="translate(259.70 1032.30) scale(0.91 1)" font-size="9.24" text-anchor="end" fill="#222" stroke="#222" stroke-width="0.2">0</text>
<line x1="260.70" y1="1000.36" x2="263.50" y2="1000.36" stroke="#000" stroke-width="1.1"/>
<text transform="translate(259.70 1003.36) scale(0.91 1)" font-size="9.24" text-anchor="end" fill="#222" stroke="#222" stroke-width="0.2">100</text>
<line x1="260.70" y1="971.42" x2="263.50" y2="971.42" stroke="#000" stroke-width="1.1"/>
<text transform="translate(259.70 974.42) scale(0.91 1)" font-size="9.24" text-anchor="end" fill="#222" stroke="#222" stroke-width="0.2">200</text>
<line x1="260.70" y1="942.48" x2="263.50" y2="942.48" stroke="#000" stroke-width="1.1"/>
<text transform="translate(259.70 945.48) scale(0.91 1)" font-size="9.24" text-anchor="end" fill="#222" stroke="#222" stroke-width="0.2">300</text>
<line x1="260.70" y1="913.54" x2="263.50" y2="913.54" stroke="#000" stroke-width="1.1"/>
<text transform="translate(259.70 916.54) scale(0.91 1)" font-size="9.24" text-anchor="end" fill="#222" stroke="#222" stroke-width="0.2">400</text>
<line x1="260.70" y1="884.60" x2="263.50" y2="884.60" stroke="#000" stroke-width="1.1"/>
<text transform="translate(259.70 887.60) scale(0.91 1)" font-size="9.24" text-anchor="end" fill="#222" stroke="#222" stroke-width="0.2">500</text>
<text transform="translate(289.20 864.30) scale(0.91 1)" font-size="10.34" text-anchor="middle" font-weight="bold" fill="#000">IgL</text>
<text transform="translate(288.90 876.60) scale(0.91 1)" font-size="8.80" text-anchor="middle" fill="#222" stroke="#222" stroke-width="0.2">p = 0.0008</text>
<line x1="282.60" y1="896.20" x2="282.60" y2="916.60" stroke="#111" stroke-width="1.5"/>
<line x1="282.60" y1="969.50" x2="282.60" y2="1007.00" stroke="#111" stroke-width="1.5"/>
<rect x="271.70" y="916.60" width="22.90" height="52.90" fill="none" stroke="#111" stroke-width="1.5"/>
<line x1="271.70" y1="958.10" x2="294.60" y2="958.10" stroke="#111" stroke-width="2.7"/>
<circle cx="288.90" cy="896.00" r="1.5" fill="#22409B"/>
<circle cx="276.30" cy="909.40" r="1.5" fill="#22409B"/>
<circle cx="289.20" cy="908.00" r="1.5" fill="#22409B"/>
<circle cx="283.50" cy="938.10" r="1.5" fill="#22409B"/>
<circle cx="277.20" cy="952.80" r="1.5" fill="#22409B"/>
<circle cx="287.90" cy="963.60" r="1.5" fill="#22409B"/>
<circle cx="277.80" cy="969.50" r="1.5" fill="#22409B"/>
<circle cx="285.00" cy="979.00" r="1.5" fill="#22409B"/>
<circle cx="286.80" cy="1007.00" r="1.5" fill="#22409B"/>
<line x1="282.60" y1="1035.00" x2="282.60" y2="1037.60" stroke="#000" stroke-width="1.1"/>
<text transform="translate(282.60 1045.00) scale(0.91 1)" font-size="10.67" text-anchor="middle" fill="#222" stroke="#222" stroke-width="0.2">R</text>
<line x1="314.90" y1="1005.10" x2="314.90" y2="1012.70" stroke="#111" stroke-width="1.5"/>
<line x1="314.90" y1="1026.60" x2="314.90" y2="1027.40" stroke="#111" stroke-width="1.5"/>
<rect x="304.10" y="1012.70" width="22.80" height="13.90" fill="none" stroke="#111" stroke-width="1.5"/>
<line x1="304.10" y1="1022.80" x2="326.90" y2="1022.80" stroke="#111" stroke-width="2.7"/>
<circle cx="312.50" cy="967.00" r="1.5" fill="#E8221E"/>
<circle cx="312.60" cy="975.20" r="1.5" fill="#E8221E"/>
<circle cx="315.30" cy="1004.50" r="1.5" fill="#E8221E"/>
<circle cx="312.60" cy="1020.90" r="1.5" fill="#E8221E"/>
<circle cx="308.80" cy="1024.10" r="1.5" fill="#E8221E"/>
<circle cx="314.00" cy="1023.50" r="1.5" fill="#E8221E"/>
<circle cx="309.20" cy="1027.40" r="1.5" fill="#E8221E"/>
<circle cx="314.90" cy="1027.40" r="1.5" fill="#E8221E"/>
<circle cx="320.60" cy="1027.90" r="1.5" fill="#E8221E"/>
<line x1="314.90" y1="1035.00" x2="314.90" y2="1037.60" stroke="#000" stroke-width="1.1"/>
<text transform="translate(314.90 1045.00) scale(0.91 1)" font-size="10.67" text-anchor="middle" fill="#222" stroke="#222" stroke-width="0.2">NR</text>
<line x1="463.60" y1="876.60" x2="463.60" y2="1034.70" stroke="#000" stroke-width="1.4"/>
<line x1="462.90" y1="1034.00" x2="534.60" y2="1034.00" stroke="#000" stroke-width="1.4"/>
<line x1="460.80" y1="1027.00" x2="463.60" y2="1027.00" stroke="#000" stroke-width="1.1"/>
<text transform="translate(460.00 1030.00) scale(0.91 1)" font-size="9.24" text-anchor="end" fill="#222" stroke="#222" stroke-width="0.2">0</text>
<line x1="460.80" y1="987.87" x2="463.60" y2="987.87" stroke="#000" stroke-width="1.1"/>
<text transform="translate(460.00 990.87) scale(0.91 1)" font-size="9.24" text-anchor="end" fill="#222" stroke="#222" stroke-width="0.2">300</text>
<line x1="460.80" y1="948.73" x2="463.60" y2="948.73" stroke="#000" stroke-width="1.1"/>
<text transform="translate(460.00 951.73) scale(0.91 1)" font-size="9.24" text-anchor="end" fill="#222" stroke="#222" stroke-width="0.2">600</text>
<line x1="460.80" y1="909.60" x2="463.60" y2="909.60" stroke="#000" stroke-width="1.1"/>
<text transform="translate(460.00 912.60) scale(0.91 1)" font-size="9.24" text-anchor="end" fill="#222" stroke="#222" stroke-width="0.2">900</text>
<text transform="translate(494.40 863.60) scale(0.91 1)" font-size="10.34" text-anchor="middle" font-weight="bold" fill="#000">IgH</text>
<text transform="translate(494.00 877.00) scale(0.91 1)" font-size="8.80" text-anchor="middle" fill="#222" stroke="#222" stroke-width="0.2">p = 0.36</text>
<line x1="483.00" y1="988.00" x2="483.00" y2="991.60" stroke="#111" stroke-width="1.5"/>
<rect x="471.60" y="991.60" width="22.80" height="31.40" fill="none" stroke="#111" stroke-width="1.5"/>
<line x1="471.60" y1="1009.60" x2="494.40" y2="1009.60" stroke="#111" stroke-width="2.7"/>
<circle cx="477.00" cy="924.00" r="1.5" fill="#22409B"/>
<circle cx="487.60" cy="987.60" r="1.5" fill="#22409B"/>
<circle cx="485.60" cy="1004.00" r="1.5" fill="#22409B"/>
<circle cx="483.00" cy="1015.60" r="1.5" fill="#22409B"/>
<circle cx="483.00" cy="1026.00" r="1.5" fill="#22409B"/>
<circle cx="482.00" cy="1027.00" r="1.5" fill="#22409B"/>
<line x1="483.00" y1="1034.00" x2="483.00" y2="1036.60" stroke="#000" stroke-width="1.1"/>
<text transform="translate(483.00 1045.00) scale(0.91 1)" font-size="10.67" text-anchor="middle" fill="#222" stroke="#222" stroke-width="0.2">R</text>
<rect x="503.60" y="1018.60" width="23.10" height="7.40" fill="none" stroke="#111" stroke-width="1.5"/>
<line x1="503.60" y1="1024.80" x2="526.70" y2="1024.80" stroke="#111" stroke-width="2.7"/>
<circle cx="513.00" cy="999.40" r="1.5" fill="#E8221E"/>
<circle cx="509.60" cy="1006.00" r="1.5" fill="#E8221E"/>
<circle cx="509.00" cy="1017.60" r="1.5" fill="#E8221E"/>
<circle cx="513.60" cy="1022.00" r="1.5" fill="#E8221E"/>
<circle cx="511.00" cy="1026.00" r="1.5" fill="#E8221E"/>
<circle cx="516.00" cy="1025.00" r="1.5" fill="#E8221E"/>
<circle cx="520.00" cy="1025.00" r="1.5" fill="#E8221E"/>
<circle cx="513.00" cy="1027.00" r="1.5" fill="#E8221E"/>
<line x1="515.60" y1="1034.00" x2="515.60" y2="1036.60" stroke="#000" stroke-width="1.1"/>
<text transform="translate(515.60 1045.00) scale(0.91 1)" font-size="10.67" text-anchor="middle" fill="#222" stroke="#222" stroke-width="0.2">NR</text>
<text transform="translate(438.30 948.50) rotate(-90) scale(0.91 1)" font-size="10.84" text-anchor="middle" fill="#222" stroke="#222" stroke-width="0.2">BCR Repertoire Diversity</text>
<line x1="561.00" y1="879.00" x2="561.00" y2="1037.30" stroke="#000" stroke-width="1.4"/>
<line x1="560.30" y1="1036.60" x2="631.60" y2="1036.60" stroke="#000" stroke-width="1.4"/>
<line x1="558.20" y1="1029.60" x2="561.00" y2="1029.60" stroke="#000" stroke-width="1.1"/>
<text transform="translate(556.00 1032.60) scale(0.91 1)" font-size="9.24" text-anchor="end" fill="#222" stroke="#222" stroke-width="0.2">0</text>
<line x1="558.20" y1="995.45" x2="561.00" y2="995.45" stroke="#000" stroke-width="1.1"/>
<text transform="translate(556.00 998.45) scale(0.91 1)" font-size="9.24" text-anchor="end" fill="#222" stroke="#222" stroke-width="0.2">500</text>
<line x1="558.20" y1="961.30" x2="561.00" y2="961.30" stroke="#000" stroke-width="1.1"/>
<text transform="translate(556.00 964.30) scale(0.91 1)" font-size="9.24" text-anchor="end" fill="#222" stroke="#222" stroke-width="0.2">1000</text>
<line x1="558.20" y1="927.15" x2="561.00" y2="927.15" stroke="#000" stroke-width="1.1"/>
<text transform="translate(556.00 930.15) scale(0.91 1)" font-size="9.24" text-anchor="end" fill="#222" stroke="#222" stroke-width="0.2">1500</text>
<line x1="558.20" y1="893.00" x2="561.00" y2="893.00" stroke="#000" stroke-width="1.1"/>
<text transform="translate(556.00 896.00) scale(0.91 1)" font-size="9.24" text-anchor="end" fill="#222" stroke="#222" stroke-width="0.2">2000</text>
<text transform="translate(588.60 863.60) scale(0.91 1)" font-size="10.34" text-anchor="middle" font-weight="bold" fill="#000">IgL</text>
<text transform="translate(588.60 877.00) scale(0.91 1)" font-size="8.80" text-anchor="middle" fill="#222" stroke="#222" stroke-width="0.2">p = 0.26</text>
<line x1="580.40" y1="953.60" x2="580.40" y2="980.40" stroke="#111" stroke-width="1.5"/>
<rect x="568.60" y="980.40" width="23.00" height="45.20" fill="none" stroke="#111" stroke-width="1.5"/>
<line x1="568.60" y1="1018.60" x2="591.60" y2="1018.60" stroke="#111" stroke-width="2.7"/>
<circle cx="574.40" cy="896.60" r="1.5" fill="#22409B"/>
<circle cx="583.00" cy="952.60" r="1.5" fill="#22409B"/>
<circle cx="575.00" cy="989.60" r="1.5" fill="#22409B"/>
<circle cx="585.60" cy="1016.00" r="1.5" fill="#22409B"/>
<circle cx="581.00" cy="1022.40" r="1.5" fill="#22409B"/>
<circle cx="583.00" cy="1024.40" r="1.5" fill="#22409B"/>
<circle cx="580.60" cy="1029.00" r="1.5" fill="#22409B"/>
<line x1="580.40" y1="1036.60" x2="580.40" y2="1039.20" stroke="#000" stroke-width="1.1"/>
<text transform="translate(580.40 1047.00) scale(0.91 1)" font-size="10.67" text-anchor="middle" fill="#222" stroke="#222" stroke-width="0.2">R</text>
<rect x="601.00" y="1020.60" width="23.00" height="8.40" fill="none" stroke="#111" stroke-width="1.5"/>
<line x1="601.00" y1="1028.00" x2="624.00" y2="1028.00" stroke="#111" stroke-width="2.7"/>
<circle cx="610.00" cy="991.60" r="1.5" fill="#E8221E"/>
<circle cx="609.40" cy="997.00" r="1.5" fill="#E8221E"/>
<circle cx="606.00" cy="1020.60" r="1.5" fill="#E8221E"/>
<circle cx="610.00" cy="1027.00" r="1.5" fill="#E8221E"/>
<circle cx="609.00" cy="1029.00" r="1.5" fill="#E8221E"/>
<circle cx="617.00" cy="1028.00" r="1.5" fill="#E8221E"/>
<circle cx="619.00" cy="1028.00" r="1.5" fill="#E8221E"/>
<circle cx="611.00" cy="1028.40" r="1.5" fill="#E8221E"/>
<line x1="613.00" y1="1036.60" x2="613.00" y2="1039.20" stroke="#000" stroke-width="1.1"/>
<text transform="translate(613.00 1047.00) scale(0.91 1)" font-size="10.67" text-anchor="middle" fill="#222" stroke="#222" stroke-width="0.2">NR</text>
</svg></body></html>
